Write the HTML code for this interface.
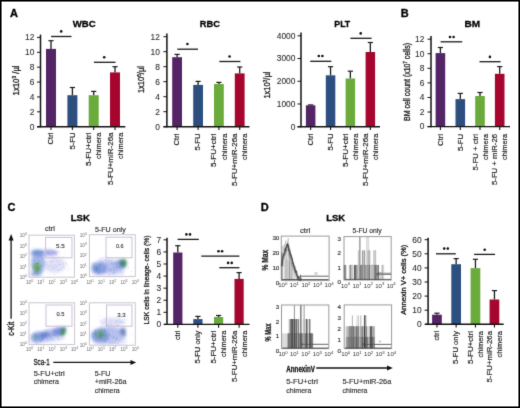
<!DOCTYPE html>
<html><head><meta charset="utf-8"><style>
html,body{margin:0;padding:0;background:#fff;}
body{width:520px;height:408px;overflow:hidden;}
svg{display:block;font-family:"Liberation Sans", sans-serif;will-change:transform;}

</style></head><body>
<svg width="520" height="408" viewBox="0 0 520 408">
<defs><filter id="b1" x="-50%" y="-50%" width="200%" height="200%"><feGaussianBlur stdDeviation="1.6"/></filter><filter id="b2" x="-50%" y="-50%" width="200%" height="200%"><feGaussianBlur stdDeviation="0.9"/></filter></defs>
<rect x="0" y="0" width="520" height="408" fill="#fff"/>
<filter id="gb" x="0" y="0" width="100%" height="100%" color-interpolation-filters="sRGB"><feConvolveMatrix order="3" kernelMatrix="0.01134 0.08382 0.01134 0.08382 0.61935 0.08382 0.01134 0.08382 0.01134" divisor="1" edgeMode="duplicate"/></filter><g filter="url(#gb)">
<text x="10.10" y="16.80" font-size="11" text-anchor="start" font-weight="bold" fill="#000" stroke="#000" stroke-width="0.3">A</text>
<text x="400.80" y="16.90" font-size="11" text-anchor="start" font-weight="bold" fill="#000" stroke="#000" stroke-width="0.3">B</text>
<text x="7.60" y="210.60" font-size="11" text-anchor="start" font-weight="bold" fill="#000" stroke="#000" stroke-width="0.3">C</text>
<text x="260.80" y="211.20" font-size="11" text-anchor="start" font-weight="bold" fill="#000" stroke="#000" stroke-width="0.3">D</text>
<text x="72.70" y="26.90" font-size="9.9" text-anchor="start" font-weight="bold" textLength="23.00" lengthAdjust="spacingAndGlyphs" fill="#000" stroke="#000" stroke-width="0.3">WBC</text>
<text x="199.80" y="26.90" font-size="9.9" text-anchor="start" font-weight="bold" textLength="20.20" lengthAdjust="spacingAndGlyphs" fill="#000" stroke="#000" stroke-width="0.3">RBC</text>
<text x="334.30" y="26.80" font-size="9.9" text-anchor="start" font-weight="bold" textLength="15.90" lengthAdjust="spacingAndGlyphs" fill="#000" stroke="#000" stroke-width="0.3">PLT</text>
<text x="464.40" y="27.10" font-size="9.9" text-anchor="start" font-weight="bold" textLength="15.60" lengthAdjust="spacingAndGlyphs" fill="#000" stroke="#000" stroke-width="0.3">BM</text>
<line x1="51.00" y1="40.70" x2="51.00" y2="48.90" stroke="#1a1a1a" stroke-width="1.3"/>
<line x1="48.40" y1="40.70" x2="53.60" y2="40.70" stroke="#1a1a1a" stroke-width="1.2"/>
<rect x="46.00" y="48.90" width="10.00" height="77.80" fill="#532466"/>
<line x1="72.40" y1="87.50" x2="72.40" y2="95.20" stroke="#1a1a1a" stroke-width="1.3"/>
<line x1="69.80" y1="87.50" x2="75.00" y2="87.50" stroke="#1a1a1a" stroke-width="1.2"/>
<rect x="67.40" y="95.20" width="10.00" height="31.50" fill="#2d4f80"/>
<line x1="93.70" y1="91.40" x2="93.70" y2="95.20" stroke="#1a1a1a" stroke-width="1.3"/>
<line x1="91.10" y1="91.40" x2="96.30" y2="91.40" stroke="#1a1a1a" stroke-width="1.2"/>
<rect x="88.70" y="95.20" width="10.00" height="31.50" fill="#6aab3c"/>
<line x1="115.00" y1="66.70" x2="115.00" y2="72.40" stroke="#1a1a1a" stroke-width="1.3"/>
<line x1="112.40" y1="66.70" x2="117.60" y2="66.70" stroke="#1a1a1a" stroke-width="1.2"/>
<rect x="110.00" y="72.40" width="10.00" height="54.30" fill="#a6062e"/>
<line x1="40.50" y1="34.60" x2="40.50" y2="127.30" stroke="#111" stroke-width="1.5"/>
<line x1="37.00" y1="126.70" x2="125.30" y2="126.70" stroke="#111" stroke-width="1.4"/>
<line x1="37.00" y1="126.70" x2="40.50" y2="126.70" stroke="#111" stroke-width="1.0"/>
<text x="34.40" y="129.55" font-size="8.4" text-anchor="end" fill="#2a2a2a" stroke="#2a2a2a" stroke-width="0.08">0</text>
<line x1="37.00" y1="111.82" x2="40.50" y2="111.82" stroke="#111" stroke-width="1.0"/>
<text x="34.40" y="114.67" font-size="8.4" text-anchor="end" fill="#2a2a2a" stroke="#2a2a2a" stroke-width="0.08">2</text>
<line x1="37.00" y1="96.94" x2="40.50" y2="96.94" stroke="#111" stroke-width="1.0"/>
<text x="34.40" y="99.79" font-size="8.4" text-anchor="end" fill="#2a2a2a" stroke="#2a2a2a" stroke-width="0.08">4</text>
<line x1="37.00" y1="82.06" x2="40.50" y2="82.06" stroke="#111" stroke-width="1.0"/>
<text x="34.40" y="84.91" font-size="8.4" text-anchor="end" fill="#2a2a2a" stroke="#2a2a2a" stroke-width="0.08">6</text>
<line x1="37.00" y1="67.18" x2="40.50" y2="67.18" stroke="#111" stroke-width="1.0"/>
<text x="34.40" y="70.03" font-size="8.4" text-anchor="end" fill="#2a2a2a" stroke="#2a2a2a" stroke-width="0.08">8</text>
<line x1="37.00" y1="52.30" x2="40.50" y2="52.30" stroke="#111" stroke-width="1.0"/>
<text x="34.40" y="55.15" font-size="8.4" text-anchor="end" fill="#2a2a2a" stroke="#2a2a2a" stroke-width="0.08">10</text>
<line x1="37.00" y1="37.42" x2="40.50" y2="37.42" stroke="#111" stroke-width="1.0"/>
<text x="34.40" y="40.27" font-size="8.4" text-anchor="end" fill="#2a2a2a" stroke="#2a2a2a" stroke-width="0.08">12</text>
<line x1="51.00" y1="126.70" x2="51.00" y2="130.00" stroke="#111" stroke-width="1.1"/>
<line x1="72.40" y1="126.70" x2="72.40" y2="130.00" stroke="#111" stroke-width="1.1"/>
<line x1="93.70" y1="126.70" x2="93.70" y2="130.00" stroke="#111" stroke-width="1.1"/>
<line x1="115.00" y1="126.70" x2="115.00" y2="130.00" stroke="#111" stroke-width="1.1"/>
<line x1="51.10" y1="36.50" x2="71.50" y2="36.50" stroke="#1a1a1a" stroke-width="1.3"/>
<circle cx="61.20" cy="31.40" r="1.3" fill="#111"/>
<line x1="93.90" y1="62.30" x2="115.50" y2="62.30" stroke="#1a1a1a" stroke-width="1.3"/>
<circle cx="104.20" cy="57.30" r="1.3" fill="#111"/>
<text transform="translate(19.40,80.40) rotate(-90)" font-size="9" text-anchor="middle" textLength="30.00" lengthAdjust="spacingAndGlyphs" fill="#1a1a1a" stroke="#1a1a1a" stroke-width="0.32">1x10<tspan font-size="5.5" dy="-3.3">3</tspan><tspan dy="3.3"> /µl</tspan></text>
<text transform="translate(53.30,132.50) rotate(-90)" font-size="8.0" text-anchor="end" textLength="12.00" lengthAdjust="spacingAndGlyphs" fill="#222" stroke="#222" stroke-width="0.18">Ctrl</text>
<text transform="translate(74.70,132.50) rotate(-90)" font-size="8.0" text-anchor="end" textLength="17.00" lengthAdjust="spacingAndGlyphs" fill="#222" stroke="#222" stroke-width="0.18">5-FU</text>
<text transform="translate(91.20,132.50) rotate(-90)" font-size="8.0" text-anchor="end" textLength="33.50" lengthAdjust="spacingAndGlyphs" fill="#222" stroke="#222" stroke-width="0.18">5-FU+ctrl</text>
<text transform="translate(101.30,132.50) rotate(-90)" font-size="8.0" text-anchor="end" textLength="26.50" lengthAdjust="spacingAndGlyphs" fill="#222" stroke="#222" stroke-width="0.18">chimera</text>
<text transform="translate(112.50,132.50) rotate(-90)" font-size="8.0" text-anchor="end" textLength="52.50" lengthAdjust="spacingAndGlyphs" fill="#222" stroke="#222" stroke-width="0.18">5-FU+miR-26a</text>
<text transform="translate(122.60,132.50) rotate(-90)" font-size="8.0" text-anchor="end" textLength="26.50" lengthAdjust="spacingAndGlyphs" fill="#222" stroke="#222" stroke-width="0.18">chimera</text>
<line x1="177.10" y1="54.40" x2="177.10" y2="57.20" stroke="#1a1a1a" stroke-width="1.3"/>
<line x1="174.50" y1="54.40" x2="179.70" y2="54.40" stroke="#1a1a1a" stroke-width="1.2"/>
<rect x="172.20" y="57.20" width="9.80" height="69.50" fill="#532466"/>
<line x1="198.10" y1="81.40" x2="198.10" y2="84.90" stroke="#1a1a1a" stroke-width="1.3"/>
<line x1="195.50" y1="81.40" x2="200.70" y2="81.40" stroke="#1a1a1a" stroke-width="1.2"/>
<rect x="193.20" y="84.90" width="9.80" height="41.80" fill="#2d4f80"/>
<line x1="218.90" y1="82.40" x2="218.90" y2="84.00" stroke="#1a1a1a" stroke-width="1.3"/>
<line x1="216.30" y1="82.40" x2="221.50" y2="82.40" stroke="#1a1a1a" stroke-width="1.2"/>
<rect x="214.00" y="84.00" width="9.80" height="42.70" fill="#6aab3c"/>
<line x1="239.70" y1="67.00" x2="239.70" y2="73.40" stroke="#1a1a1a" stroke-width="1.3"/>
<line x1="237.10" y1="67.00" x2="242.30" y2="67.00" stroke="#1a1a1a" stroke-width="1.2"/>
<rect x="234.80" y="73.40" width="9.80" height="53.30" fill="#a6062e"/>
<line x1="166.90" y1="33.40" x2="166.90" y2="127.30" stroke="#111" stroke-width="1.5"/>
<line x1="163.50" y1="126.70" x2="249.50" y2="126.70" stroke="#111" stroke-width="1.4"/>
<line x1="163.40" y1="126.70" x2="166.90" y2="126.70" stroke="#111" stroke-width="1.0"/>
<text x="159.90" y="129.55" font-size="8.4" text-anchor="end" fill="#2a2a2a" stroke="#2a2a2a" stroke-width="0.08">0</text>
<line x1="163.40" y1="111.70" x2="166.90" y2="111.70" stroke="#111" stroke-width="1.0"/>
<text x="159.90" y="114.55" font-size="8.4" text-anchor="end" fill="#2a2a2a" stroke="#2a2a2a" stroke-width="0.08">2</text>
<line x1="163.40" y1="96.70" x2="166.90" y2="96.70" stroke="#111" stroke-width="1.0"/>
<text x="159.90" y="99.55" font-size="8.4" text-anchor="end" fill="#2a2a2a" stroke="#2a2a2a" stroke-width="0.08">4</text>
<line x1="163.40" y1="81.70" x2="166.90" y2="81.70" stroke="#111" stroke-width="1.0"/>
<text x="159.90" y="84.55" font-size="8.4" text-anchor="end" fill="#2a2a2a" stroke="#2a2a2a" stroke-width="0.08">6</text>
<line x1="163.40" y1="66.70" x2="166.90" y2="66.70" stroke="#111" stroke-width="1.0"/>
<text x="159.90" y="69.55" font-size="8.4" text-anchor="end" fill="#2a2a2a" stroke="#2a2a2a" stroke-width="0.08">8</text>
<line x1="163.40" y1="51.70" x2="166.90" y2="51.70" stroke="#111" stroke-width="1.0"/>
<text x="159.90" y="54.55" font-size="8.4" text-anchor="end" fill="#2a2a2a" stroke="#2a2a2a" stroke-width="0.08">10</text>
<line x1="163.40" y1="36.70" x2="166.90" y2="36.70" stroke="#111" stroke-width="1.0"/>
<text x="159.90" y="39.55" font-size="8.4" text-anchor="end" fill="#2a2a2a" stroke="#2a2a2a" stroke-width="0.08">12</text>
<line x1="177.10" y1="126.70" x2="177.10" y2="130.00" stroke="#111" stroke-width="1.1"/>
<line x1="198.10" y1="126.70" x2="198.10" y2="130.00" stroke="#111" stroke-width="1.1"/>
<line x1="218.90" y1="126.70" x2="218.90" y2="130.00" stroke="#111" stroke-width="1.1"/>
<line x1="239.70" y1="126.70" x2="239.70" y2="130.00" stroke="#111" stroke-width="1.1"/>
<line x1="177.30" y1="49.20" x2="198.00" y2="49.20" stroke="#1a1a1a" stroke-width="1.3"/>
<circle cx="187.40" cy="44.00" r="1.3" fill="#111"/>
<line x1="219.30" y1="61.50" x2="240.40" y2="61.50" stroke="#1a1a1a" stroke-width="1.3"/>
<circle cx="229.60" cy="56.50" r="1.3" fill="#111"/>
<text transform="translate(144.40,79.60) rotate(-90)" font-size="9" text-anchor="middle" textLength="27.00" lengthAdjust="spacingAndGlyphs" fill="#1a1a1a" stroke="#1a1a1a" stroke-width="0.32">1x10<tspan font-size="5.5" dy="-3.3">6</tspan><tspan dy="3.3">/µl</tspan></text>
<text transform="translate(179.40,133.50) rotate(-90)" font-size="8.0" text-anchor="end" textLength="12.00" lengthAdjust="spacingAndGlyphs" fill="#222" stroke="#222" stroke-width="0.18">Ctrl</text>
<text transform="translate(200.40,133.50) rotate(-90)" font-size="8.0" text-anchor="end" textLength="17.00" lengthAdjust="spacingAndGlyphs" fill="#222" stroke="#222" stroke-width="0.18">5-FU</text>
<text transform="translate(216.40,133.50) rotate(-90)" font-size="8.0" text-anchor="end" textLength="33.50" lengthAdjust="spacingAndGlyphs" fill="#222" stroke="#222" stroke-width="0.18">5-FU+ctrl</text>
<text transform="translate(226.50,133.50) rotate(-90)" font-size="8.0" text-anchor="end" textLength="26.50" lengthAdjust="spacingAndGlyphs" fill="#222" stroke="#222" stroke-width="0.18">chimera</text>
<text transform="translate(237.20,133.50) rotate(-90)" font-size="8.0" text-anchor="end" textLength="52.50" lengthAdjust="spacingAndGlyphs" fill="#222" stroke="#222" stroke-width="0.18">5-FU+miR-26a</text>
<text transform="translate(247.30,133.50) rotate(-90)" font-size="8.0" text-anchor="end" textLength="26.50" lengthAdjust="spacingAndGlyphs" fill="#222" stroke="#222" stroke-width="0.18">chimera</text>
<line x1="310.65" y1="104.90" x2="310.65" y2="105.30" stroke="#1a1a1a" stroke-width="1.3"/>
<line x1="308.05" y1="104.90" x2="313.25" y2="104.90" stroke="#1a1a1a" stroke-width="1.2"/>
<rect x="305.90" y="105.30" width="9.50" height="21.40" fill="#532466"/>
<line x1="330.55" y1="66.70" x2="330.55" y2="75.30" stroke="#1a1a1a" stroke-width="1.3"/>
<line x1="327.95" y1="66.70" x2="333.15" y2="66.70" stroke="#1a1a1a" stroke-width="1.2"/>
<rect x="325.80" y="75.30" width="9.50" height="51.40" fill="#2d4f80"/>
<line x1="350.35" y1="71.20" x2="350.35" y2="78.50" stroke="#1a1a1a" stroke-width="1.3"/>
<line x1="347.75" y1="71.20" x2="352.95" y2="71.20" stroke="#1a1a1a" stroke-width="1.2"/>
<rect x="345.60" y="78.50" width="9.50" height="48.20" fill="#6aab3c"/>
<line x1="370.35" y1="42.50" x2="370.35" y2="52.00" stroke="#1a1a1a" stroke-width="1.3"/>
<line x1="367.75" y1="42.50" x2="372.95" y2="42.50" stroke="#1a1a1a" stroke-width="1.2"/>
<rect x="365.60" y="52.00" width="9.50" height="74.70" fill="#a6062e"/>
<line x1="301.00" y1="32.40" x2="301.00" y2="127.30" stroke="#111" stroke-width="1.5"/>
<line x1="297.50" y1="126.70" x2="380.00" y2="126.70" stroke="#111" stroke-width="1.4"/>
<line x1="297.50" y1="126.70" x2="301.00" y2="126.70" stroke="#111" stroke-width="1.0"/>
<text x="295.40" y="129.55" font-size="8.4" text-anchor="end" fill="#2a2a2a" stroke="#2a2a2a" stroke-width="0.08">0</text>
<line x1="297.50" y1="103.98" x2="301.00" y2="103.98" stroke="#111" stroke-width="1.0"/>
<text x="295.40" y="106.83" font-size="8.4" text-anchor="end" fill="#2a2a2a" stroke="#2a2a2a" stroke-width="0.08">1000</text>
<line x1="297.50" y1="81.26" x2="301.00" y2="81.26" stroke="#111" stroke-width="1.0"/>
<text x="295.40" y="84.11" font-size="8.4" text-anchor="end" fill="#2a2a2a" stroke="#2a2a2a" stroke-width="0.08">2000</text>
<line x1="297.50" y1="58.54" x2="301.00" y2="58.54" stroke="#111" stroke-width="1.0"/>
<text x="295.40" y="61.39" font-size="8.4" text-anchor="end" fill="#2a2a2a" stroke="#2a2a2a" stroke-width="0.08">3000</text>
<line x1="297.50" y1="35.82" x2="301.00" y2="35.82" stroke="#111" stroke-width="1.0"/>
<text x="295.40" y="38.67" font-size="8.4" text-anchor="end" fill="#2a2a2a" stroke="#2a2a2a" stroke-width="0.08">4000</text>
<line x1="310.65" y1="126.70" x2="310.65" y2="130.00" stroke="#111" stroke-width="1.1"/>
<line x1="330.55" y1="126.70" x2="330.55" y2="130.00" stroke="#111" stroke-width="1.1"/>
<line x1="350.35" y1="126.70" x2="350.35" y2="130.00" stroke="#111" stroke-width="1.1"/>
<line x1="370.35" y1="126.70" x2="370.35" y2="130.00" stroke="#111" stroke-width="1.1"/>
<line x1="310.20" y1="61.30" x2="331.30" y2="61.30" stroke="#1a1a1a" stroke-width="1.3"/>
<circle cx="318.80" cy="56.00" r="1.3" fill="#111"/>
<circle cx="322.40" cy="56.00" r="1.3" fill="#111"/>
<line x1="350.40" y1="38.30" x2="371.60" y2="38.30" stroke="#1a1a1a" stroke-width="1.3"/>
<circle cx="360.70" cy="33.40" r="1.3" fill="#111"/>
<text transform="translate(270.40,85.10) rotate(-90)" font-size="9" text-anchor="middle" textLength="27.00" lengthAdjust="spacingAndGlyphs" fill="#1a1a1a" stroke="#1a1a1a" stroke-width="0.32">1x10<tspan font-size="5.5" dy="-3.3">3</tspan><tspan dy="3.3">/µl</tspan></text>
<text transform="translate(312.95,133.50) rotate(-90)" font-size="8.0" text-anchor="end" textLength="12.00" lengthAdjust="spacingAndGlyphs" fill="#222" stroke="#222" stroke-width="0.18">Ctrl</text>
<text transform="translate(332.85,133.50) rotate(-90)" font-size="8.0" text-anchor="end" textLength="17.00" lengthAdjust="spacingAndGlyphs" fill="#222" stroke="#222" stroke-width="0.18">5-FU</text>
<text transform="translate(347.85,133.50) rotate(-90)" font-size="8.0" text-anchor="end" textLength="33.50" lengthAdjust="spacingAndGlyphs" fill="#222" stroke="#222" stroke-width="0.18">5-FU+ctrl</text>
<text transform="translate(357.95,133.50) rotate(-90)" font-size="8.0" text-anchor="end" textLength="26.50" lengthAdjust="spacingAndGlyphs" fill="#222" stroke="#222" stroke-width="0.18">chimera</text>
<text transform="translate(367.85,133.50) rotate(-90)" font-size="8.0" text-anchor="end" textLength="52.50" lengthAdjust="spacingAndGlyphs" fill="#222" stroke="#222" stroke-width="0.18">5-FU+miR-26a</text>
<text transform="translate(377.95,133.50) rotate(-90)" font-size="8.0" text-anchor="end" textLength="26.50" lengthAdjust="spacingAndGlyphs" fill="#222" stroke="#222" stroke-width="0.18">chimera</text>
<line x1="440.40" y1="47.50" x2="440.40" y2="53.10" stroke="#1a1a1a" stroke-width="1.3"/>
<line x1="437.80" y1="47.50" x2="443.00" y2="47.50" stroke="#1a1a1a" stroke-width="1.2"/>
<rect x="435.60" y="53.10" width="9.60" height="73.50" fill="#532466"/>
<line x1="460.30" y1="93.40" x2="460.30" y2="99.10" stroke="#1a1a1a" stroke-width="1.3"/>
<line x1="457.70" y1="93.40" x2="462.90" y2="93.40" stroke="#1a1a1a" stroke-width="1.2"/>
<rect x="455.50" y="99.10" width="9.60" height="27.50" fill="#2d4f80"/>
<line x1="480.00" y1="92.50" x2="480.00" y2="96.00" stroke="#1a1a1a" stroke-width="1.3"/>
<line x1="477.40" y1="92.50" x2="482.60" y2="92.50" stroke="#1a1a1a" stroke-width="1.2"/>
<rect x="475.20" y="96.00" width="9.60" height="30.60" fill="#6aab3c"/>
<line x1="499.70" y1="66.60" x2="499.70" y2="73.80" stroke="#1a1a1a" stroke-width="1.3"/>
<line x1="497.10" y1="66.60" x2="502.30" y2="66.60" stroke="#1a1a1a" stroke-width="1.2"/>
<rect x="494.90" y="73.80" width="9.60" height="52.80" fill="#a6062e"/>
<line x1="431.00" y1="36.00" x2="431.00" y2="127.20" stroke="#111" stroke-width="1.5"/>
<line x1="427.50" y1="126.60" x2="509.80" y2="126.60" stroke="#111" stroke-width="1.4"/>
<line x1="427.50" y1="126.60" x2="431.00" y2="126.60" stroke="#111" stroke-width="1.0"/>
<text x="424.40" y="129.45" font-size="8.4" text-anchor="end" fill="#2a2a2a" stroke="#2a2a2a" stroke-width="0.08">0</text>
<line x1="427.50" y1="112.03" x2="431.00" y2="112.03" stroke="#111" stroke-width="1.0"/>
<text x="424.40" y="114.88" font-size="8.4" text-anchor="end" fill="#2a2a2a" stroke="#2a2a2a" stroke-width="0.08">2</text>
<line x1="427.50" y1="97.46" x2="431.00" y2="97.46" stroke="#111" stroke-width="1.0"/>
<text x="424.40" y="100.31" font-size="8.4" text-anchor="end" fill="#2a2a2a" stroke="#2a2a2a" stroke-width="0.08">4</text>
<line x1="427.50" y1="82.89" x2="431.00" y2="82.89" stroke="#111" stroke-width="1.0"/>
<text x="424.40" y="85.74" font-size="8.4" text-anchor="end" fill="#2a2a2a" stroke="#2a2a2a" stroke-width="0.08">6</text>
<line x1="427.50" y1="68.32" x2="431.00" y2="68.32" stroke="#111" stroke-width="1.0"/>
<text x="424.40" y="71.17" font-size="8.4" text-anchor="end" fill="#2a2a2a" stroke="#2a2a2a" stroke-width="0.08">8</text>
<line x1="427.50" y1="53.75" x2="431.00" y2="53.75" stroke="#111" stroke-width="1.0"/>
<text x="424.40" y="56.60" font-size="8.4" text-anchor="end" fill="#2a2a2a" stroke="#2a2a2a" stroke-width="0.08">10</text>
<line x1="427.50" y1="39.18" x2="431.00" y2="39.18" stroke="#111" stroke-width="1.0"/>
<text x="424.40" y="42.03" font-size="8.4" text-anchor="end" fill="#2a2a2a" stroke="#2a2a2a" stroke-width="0.08">12</text>
<line x1="440.40" y1="126.60" x2="440.40" y2="129.90" stroke="#111" stroke-width="1.1"/>
<line x1="460.30" y1="126.60" x2="460.30" y2="129.90" stroke="#111" stroke-width="1.1"/>
<line x1="480.00" y1="126.60" x2="480.00" y2="129.90" stroke="#111" stroke-width="1.1"/>
<line x1="499.70" y1="126.60" x2="499.70" y2="129.90" stroke="#111" stroke-width="1.1"/>
<line x1="440.60" y1="41.80" x2="462.20" y2="41.80" stroke="#1a1a1a" stroke-width="1.3"/>
<circle cx="450.00" cy="37.00" r="1.3" fill="#111"/>
<circle cx="453.60" cy="37.00" r="1.3" fill="#111"/>
<line x1="479.50" y1="61.70" x2="500.60" y2="61.70" stroke="#1a1a1a" stroke-width="1.3"/>
<circle cx="489.90" cy="56.90" r="1.3" fill="#111"/>
<text transform="translate(410.20,82.00) rotate(-90)" font-size="8.6" text-anchor="middle" textLength="78.00" lengthAdjust="spacingAndGlyphs" fill="#1a1a1a" stroke="#1a1a1a" stroke-width="0.32">BM cell count (x10<tspan font-size="5" dy="-3">7</tspan><tspan dy="3"> cells)</tspan></text>
<text transform="translate(442.70,134.00) rotate(-90)" font-size="8.0" text-anchor="end" textLength="12.00" lengthAdjust="spacingAndGlyphs" fill="#222" stroke="#222" stroke-width="0.18">Ctrl</text>
<text transform="translate(462.60,134.00) rotate(-90)" font-size="8.0" text-anchor="end" textLength="17.00" lengthAdjust="spacingAndGlyphs" fill="#222" stroke="#222" stroke-width="0.18">5-FU</text>
<text transform="translate(477.50,134.00) rotate(-90)" font-size="8.0" text-anchor="end" textLength="36.50" lengthAdjust="spacingAndGlyphs" fill="#222" stroke="#222" stroke-width="0.18">5-FU + ctrl</text>
<text transform="translate(487.60,134.00) rotate(-90)" font-size="8.0" text-anchor="end" textLength="26.00" lengthAdjust="spacingAndGlyphs" fill="#222" stroke="#222" stroke-width="0.18">chimera</text>
<text transform="translate(497.20,134.00) rotate(-90)" font-size="8.0" text-anchor="end" textLength="51.00" lengthAdjust="spacingAndGlyphs" fill="#222" stroke="#222" stroke-width="0.18">5-FU + miR-26</text>
<text transform="translate(507.30,134.00) rotate(-90)" font-size="8.0" text-anchor="end" textLength="26.00" lengthAdjust="spacingAndGlyphs" fill="#222" stroke="#222" stroke-width="0.18">chimera</text>
<line x1="177.80" y1="245.70" x2="177.80" y2="252.50" stroke="#1a1a1a" stroke-width="1.3"/>
<line x1="175.20" y1="245.70" x2="180.40" y2="245.70" stroke="#1a1a1a" stroke-width="1.2"/>
<rect x="173.20" y="252.50" width="9.20" height="71.90" fill="#532466"/>
<line x1="197.90" y1="316.40" x2="197.90" y2="319.10" stroke="#1a1a1a" stroke-width="1.3"/>
<line x1="195.30" y1="316.40" x2="200.50" y2="316.40" stroke="#1a1a1a" stroke-width="1.2"/>
<rect x="193.30" y="319.10" width="9.20" height="5.30" fill="#2d4f80"/>
<line x1="218.60" y1="315.50" x2="218.60" y2="317.00" stroke="#1a1a1a" stroke-width="1.3"/>
<line x1="216.00" y1="315.50" x2="221.20" y2="315.50" stroke="#1a1a1a" stroke-width="1.2"/>
<rect x="214.00" y="317.00" width="9.20" height="7.40" fill="#6aab3c"/>
<line x1="239.10" y1="272.60" x2="239.10" y2="278.90" stroke="#1a1a1a" stroke-width="1.3"/>
<line x1="236.50" y1="272.60" x2="241.70" y2="272.60" stroke="#1a1a1a" stroke-width="1.2"/>
<rect x="234.50" y="278.90" width="9.20" height="45.50" fill="#a6062e"/>
<line x1="167.00" y1="237.70" x2="167.00" y2="325.00" stroke="#111" stroke-width="1.5"/>
<line x1="164.00" y1="324.40" x2="249.50" y2="324.40" stroke="#111" stroke-width="1.4"/>
<line x1="163.50" y1="324.40" x2="167.00" y2="324.40" stroke="#111" stroke-width="1.0"/>
<text x="161.20" y="327.25" font-size="8.4" text-anchor="end" fill="#2a2a2a" stroke="#2a2a2a" stroke-width="0.08">0</text>
<line x1="163.50" y1="312.32" x2="167.00" y2="312.32" stroke="#111" stroke-width="1.0"/>
<text x="161.20" y="315.17" font-size="8.4" text-anchor="end" fill="#2a2a2a" stroke="#2a2a2a" stroke-width="0.08">1</text>
<line x1="163.50" y1="300.24" x2="167.00" y2="300.24" stroke="#111" stroke-width="1.0"/>
<text x="161.20" y="303.09" font-size="8.4" text-anchor="end" fill="#2a2a2a" stroke="#2a2a2a" stroke-width="0.08">2</text>
<line x1="163.50" y1="288.16" x2="167.00" y2="288.16" stroke="#111" stroke-width="1.0"/>
<text x="161.20" y="291.01" font-size="8.4" text-anchor="end" fill="#2a2a2a" stroke="#2a2a2a" stroke-width="0.08">3</text>
<line x1="163.50" y1="276.08" x2="167.00" y2="276.08" stroke="#111" stroke-width="1.0"/>
<text x="161.20" y="278.93" font-size="8.4" text-anchor="end" fill="#2a2a2a" stroke="#2a2a2a" stroke-width="0.08">4</text>
<line x1="163.50" y1="264.00" x2="167.00" y2="264.00" stroke="#111" stroke-width="1.0"/>
<text x="161.20" y="266.85" font-size="8.4" text-anchor="end" fill="#2a2a2a" stroke="#2a2a2a" stroke-width="0.08">5</text>
<line x1="163.50" y1="251.92" x2="167.00" y2="251.92" stroke="#111" stroke-width="1.0"/>
<text x="161.20" y="254.77" font-size="8.4" text-anchor="end" fill="#2a2a2a" stroke="#2a2a2a" stroke-width="0.08">6</text>
<line x1="163.50" y1="239.84" x2="167.00" y2="239.84" stroke="#111" stroke-width="1.0"/>
<text x="161.20" y="242.69" font-size="8.4" text-anchor="end" fill="#2a2a2a" stroke="#2a2a2a" stroke-width="0.08">7</text>
<line x1="177.80" y1="324.40" x2="177.80" y2="327.70" stroke="#111" stroke-width="1.1"/>
<line x1="197.90" y1="324.40" x2="197.90" y2="327.70" stroke="#111" stroke-width="1.1"/>
<line x1="218.60" y1="324.40" x2="218.60" y2="327.70" stroke="#111" stroke-width="1.1"/>
<line x1="239.10" y1="324.40" x2="239.10" y2="327.70" stroke="#111" stroke-width="1.1"/>
<line x1="177.60" y1="239.40" x2="198.80" y2="239.40" stroke="#1a1a1a" stroke-width="1.3"/>
<circle cx="186.40" cy="234.40" r="1.3" fill="#111"/>
<circle cx="190.00" cy="234.40" r="1.3" fill="#111"/>
<line x1="201.30" y1="256.10" x2="239.40" y2="256.10" stroke="#1a1a1a" stroke-width="1.3"/>
<circle cx="218.50" cy="251.30" r="1.3" fill="#111"/>
<circle cx="222.10" cy="251.30" r="1.3" fill="#111"/>
<line x1="219.30" y1="267.70" x2="239.40" y2="267.70" stroke="#1a1a1a" stroke-width="1.3"/>
<circle cx="228.10" cy="262.90" r="1.3" fill="#111"/>
<circle cx="231.70" cy="262.90" r="1.3" fill="#111"/>
<text transform="translate(148.50,280.00) rotate(-90)" font-size="7.9" text-anchor="middle" textLength="89.00" lengthAdjust="spacingAndGlyphs" fill="#1a1a1a" stroke="#1a1a1a" stroke-width="0.32">LSK cells in lineage- cells (%)</text>
<text transform="translate(180.10,330.60) rotate(-90)" font-size="8.0" text-anchor="end" textLength="9.50" lengthAdjust="spacingAndGlyphs" fill="#222" stroke="#222" stroke-width="0.18">ctrl</text>
<text transform="translate(200.20,330.60) rotate(-90)" font-size="8.0" text-anchor="end" textLength="33.00" lengthAdjust="spacingAndGlyphs" fill="#222" stroke="#222" stroke-width="0.18">5-FU only</text>
<text transform="translate(216.10,330.60) rotate(-90)" font-size="8.0" text-anchor="end" textLength="33.00" lengthAdjust="spacingAndGlyphs" fill="#222" stroke="#222" stroke-width="0.18">5-FU+ctrl</text>
<text transform="translate(226.20,330.60) rotate(-90)" font-size="8.0" text-anchor="end" textLength="26.50" lengthAdjust="spacingAndGlyphs" fill="#222" stroke="#222" stroke-width="0.18">chimera</text>
<text transform="translate(236.60,330.60) rotate(-90)" font-size="8.0" text-anchor="end" textLength="51.50" lengthAdjust="spacingAndGlyphs" fill="#222" stroke="#222" stroke-width="0.18">5-FU+miR-26a</text>
<text transform="translate(246.70,330.60) rotate(-90)" font-size="8.0" text-anchor="end" textLength="26.50" lengthAdjust="spacingAndGlyphs" fill="#222" stroke="#222" stroke-width="0.18">chimera</text>
<line x1="436.95" y1="313.20" x2="436.95" y2="314.70" stroke="#1a1a1a" stroke-width="1.3"/>
<line x1="434.35" y1="313.20" x2="439.55" y2="313.20" stroke="#1a1a1a" stroke-width="1.2"/>
<rect x="432.10" y="314.70" width="9.70" height="9.60" fill="#532466"/>
<line x1="456.15" y1="258.60" x2="456.15" y2="264.20" stroke="#1a1a1a" stroke-width="1.3"/>
<line x1="453.55" y1="258.60" x2="458.75" y2="258.60" stroke="#1a1a1a" stroke-width="1.2"/>
<rect x="451.30" y="264.20" width="9.70" height="60.10" fill="#2d4f80"/>
<line x1="475.45" y1="259.30" x2="475.45" y2="268.10" stroke="#1a1a1a" stroke-width="1.3"/>
<line x1="472.85" y1="259.30" x2="478.05" y2="259.30" stroke="#1a1a1a" stroke-width="1.2"/>
<rect x="470.60" y="268.10" width="9.70" height="56.20" fill="#6aab3c"/>
<line x1="494.45" y1="290.60" x2="494.45" y2="299.50" stroke="#1a1a1a" stroke-width="1.3"/>
<line x1="491.85" y1="290.60" x2="497.05" y2="290.60" stroke="#1a1a1a" stroke-width="1.2"/>
<rect x="489.60" y="299.50" width="9.70" height="24.80" fill="#a6062e"/>
<line x1="428.10" y1="237.80" x2="428.10" y2="324.90" stroke="#111" stroke-width="1.5"/>
<line x1="425.00" y1="324.30" x2="503.70" y2="324.30" stroke="#111" stroke-width="1.4"/>
<line x1="424.60" y1="324.30" x2="428.10" y2="324.30" stroke="#111" stroke-width="1.0"/>
<text x="421.60" y="327.15" font-size="8.4" text-anchor="end" fill="#2a2a2a" stroke="#2a2a2a" stroke-width="0.08">0</text>
<line x1="424.60" y1="310.20" x2="428.10" y2="310.20" stroke="#111" stroke-width="1.0"/>
<text x="421.60" y="313.05" font-size="8.4" text-anchor="end" fill="#2a2a2a" stroke="#2a2a2a" stroke-width="0.08">10</text>
<line x1="424.60" y1="296.10" x2="428.10" y2="296.10" stroke="#111" stroke-width="1.0"/>
<text x="421.60" y="298.95" font-size="8.4" text-anchor="end" fill="#2a2a2a" stroke="#2a2a2a" stroke-width="0.08">20</text>
<line x1="424.60" y1="282.00" x2="428.10" y2="282.00" stroke="#111" stroke-width="1.0"/>
<text x="421.60" y="284.85" font-size="8.4" text-anchor="end" fill="#2a2a2a" stroke="#2a2a2a" stroke-width="0.08">30</text>
<line x1="424.60" y1="267.90" x2="428.10" y2="267.90" stroke="#111" stroke-width="1.0"/>
<text x="421.60" y="270.75" font-size="8.4" text-anchor="end" fill="#2a2a2a" stroke="#2a2a2a" stroke-width="0.08">40</text>
<line x1="424.60" y1="253.80" x2="428.10" y2="253.80" stroke="#111" stroke-width="1.0"/>
<text x="421.60" y="256.65" font-size="8.4" text-anchor="end" fill="#2a2a2a" stroke="#2a2a2a" stroke-width="0.08">50</text>
<line x1="424.60" y1="239.70" x2="428.10" y2="239.70" stroke="#111" stroke-width="1.0"/>
<text x="421.60" y="242.55" font-size="8.4" text-anchor="end" fill="#2a2a2a" stroke="#2a2a2a" stroke-width="0.08">60</text>
<line x1="436.95" y1="324.30" x2="436.95" y2="327.60" stroke="#111" stroke-width="1.1"/>
<line x1="456.15" y1="324.30" x2="456.15" y2="327.60" stroke="#111" stroke-width="1.1"/>
<line x1="475.45" y1="324.30" x2="475.45" y2="327.60" stroke="#111" stroke-width="1.1"/>
<line x1="494.45" y1="324.30" x2="494.45" y2="327.60" stroke="#111" stroke-width="1.1"/>
<line x1="436.00" y1="253.80" x2="455.80" y2="253.80" stroke="#1a1a1a" stroke-width="1.3"/>
<circle cx="444.20" cy="248.60" r="1.3" fill="#111"/>
<circle cx="447.80" cy="248.60" r="1.3" fill="#111"/>
<line x1="474.10" y1="254.40" x2="495.10" y2="254.40" stroke="#1a1a1a" stroke-width="1.3"/>
<circle cx="484.70" cy="249.70" r="1.3" fill="#111"/>
<text transform="translate(406.20,279.70) rotate(-90)" font-size="7.4" text-anchor="middle" textLength="70.00" lengthAdjust="spacingAndGlyphs" fill="#1a1a1a" stroke="#1a1a1a" stroke-width="0.32">Annexin V+ cells (%)</text>
<text transform="translate(439.25,331.00) rotate(-90)" font-size="8.0" text-anchor="end" textLength="9.50" lengthAdjust="spacingAndGlyphs" fill="#222" stroke="#222" stroke-width="0.18">ctrl</text>
<text transform="translate(458.45,331.00) rotate(-90)" font-size="8.0" text-anchor="end" textLength="33.00" lengthAdjust="spacingAndGlyphs" fill="#222" stroke="#222" stroke-width="0.18">5-FU only</text>
<text transform="translate(472.95,331.00) rotate(-90)" font-size="8.0" text-anchor="end" textLength="33.00" lengthAdjust="spacingAndGlyphs" fill="#222" stroke="#222" stroke-width="0.18">5-FU+ctrl</text>
<text transform="translate(483.05,331.00) rotate(-90)" font-size="8.0" text-anchor="end" textLength="26.50" lengthAdjust="spacingAndGlyphs" fill="#222" stroke="#222" stroke-width="0.18">chimera</text>
<text transform="translate(491.95,331.00) rotate(-90)" font-size="8.0" text-anchor="end" textLength="51.50" lengthAdjust="spacingAndGlyphs" fill="#222" stroke="#222" stroke-width="0.18">5-FU+miR-26a</text>
<text transform="translate(502.05,331.00) rotate(-90)" font-size="8.0" text-anchor="end" textLength="26.50" lengthAdjust="spacingAndGlyphs" fill="#222" stroke="#222" stroke-width="0.18">chimera</text>
<text x="70.70" y="221.00" font-size="9.7" text-anchor="start" font-weight="bold" textLength="19.10" lengthAdjust="spacingAndGlyphs" fill="#000" stroke="#000" stroke-width="0.3">LSK</text>
<text x="45.00" y="231.30" font-size="7.4" text-anchor="start" textLength="10.00" lengthAdjust="spacingAndGlyphs" fill="#333" stroke="#333" stroke-width="0.18">ctrl</text>
<text x="95.00" y="231.60" font-size="7.4" text-anchor="start" textLength="30.70" lengthAdjust="spacingAndGlyphs" fill="#333" stroke="#333" stroke-width="0.18">5-FU only</text>
<g filter="url(#b1)">
<ellipse cx="55.00" cy="265.00" rx="11.00" ry="8.00" fill="#c4c6f0" fill-opacity="0.5" transform="rotate(0 55.00 265.00)"/>
<ellipse cx="44.00" cy="253.00" rx="14.00" ry="3.60" fill="#8a9ce4" fill-opacity="0.55" transform="rotate(0 44.00 253.00)"/>
<ellipse cx="37.00" cy="252.50" rx="6.00" ry="3.20" fill="#4f8fb8" fill-opacity="0.55" transform="rotate(0 37.00 252.50)"/>
<ellipse cx="51.00" cy="252.50" rx="7.00" ry="3.00" fill="#a89ce2" fill-opacity="0.6" transform="rotate(0 51.00 252.50)"/>
<ellipse cx="38.00" cy="263.00" rx="7.00" ry="13.00" fill="#6f8ad8" fill-opacity="0.6" transform="rotate(0 38.00 263.00)"/>
<ellipse cx="37.00" cy="267.50" rx="3.90" ry="5.30" fill="#66ae52" fill-opacity="0.95" transform="rotate(0 37.00 267.50)"/>
<ellipse cx="35.00" cy="274.00" rx="5.00" ry="2.50" fill="#6f8ad8" fill-opacity="0.5" transform="rotate(0 35.00 274.00)"/>
</g>
<circle cx="62.2" cy="264.6" r="0.45" fill="#4a5cc0" fill-opacity="0.35"/>
<circle cx="49.6" cy="265.8" r="0.45" fill="#8a90e0" fill-opacity="0.35"/>
<circle cx="51.6" cy="269.7" r="0.45" fill="#4a68c8" fill-opacity="0.35"/>
<circle cx="53.0" cy="267.8" r="0.45" fill="#4a5cc0" fill-opacity="0.35"/>
<circle cx="54.0" cy="261.3" r="0.45" fill="#4a5cc0" fill-opacity="0.35"/>
<circle cx="57.8" cy="264.9" r="0.45" fill="#4a68c8" fill-opacity="0.35"/>
<circle cx="55.7" cy="264.9" r="0.45" fill="#5a78d8" fill-opacity="0.35"/>
<circle cx="59.4" cy="264.3" r="0.45" fill="#4a5cc0" fill-opacity="0.35"/>
<circle cx="63.8" cy="263.0" r="0.45" fill="#8a90e0" fill-opacity="0.35"/>
<circle cx="51.9" cy="264.6" r="0.45" fill="#5a78d8" fill-opacity="0.35"/>
<circle cx="67.9" cy="264.1" r="0.45" fill="#6a80d8" fill-opacity="0.35"/>
<circle cx="46.1" cy="264.5" r="0.45" fill="#8a90e0" fill-opacity="0.35"/>
<circle cx="47.8" cy="269.6" r="0.45" fill="#4a68c8" fill-opacity="0.35"/>
<circle cx="60.1" cy="264.6" r="0.45" fill="#6a80d8" fill-opacity="0.35"/>
<circle cx="54.7" cy="265.8" r="0.45" fill="#4a5cc0" fill-opacity="0.35"/>
<circle cx="46.0" cy="264.8" r="0.45" fill="#5a78d8" fill-opacity="0.35"/>
<circle cx="61.0" cy="269.8" r="0.45" fill="#8a90e0" fill-opacity="0.35"/>
<circle cx="56.3" cy="260.8" r="0.45" fill="#8a90e0" fill-opacity="0.35"/>
<circle cx="61.8" cy="268.6" r="0.45" fill="#4a68c8" fill-opacity="0.35"/>
<circle cx="48.3" cy="268.7" r="0.45" fill="#6a80d8" fill-opacity="0.35"/>
<circle cx="58.3" cy="269.2" r="0.45" fill="#4a68c8" fill-opacity="0.35"/>
<circle cx="52.3" cy="266.7" r="0.45" fill="#4a5cc0" fill-opacity="0.35"/>
<circle cx="54.8" cy="269.3" r="0.45" fill="#8a90e0" fill-opacity="0.35"/>
<circle cx="51.4" cy="268.1" r="0.45" fill="#4a68c8" fill-opacity="0.35"/>
<circle cx="56.1" cy="267.8" r="0.45" fill="#4a68c8" fill-opacity="0.35"/>
<circle cx="56.3" cy="255.1" r="0.45" fill="#4a5cc0" fill-opacity="0.35"/>
<circle cx="51.9" cy="262.9" r="0.45" fill="#5a78d8" fill-opacity="0.35"/>
<circle cx="43.9" cy="259.9" r="0.45" fill="#4a5cc0" fill-opacity="0.35"/>
<circle cx="51.7" cy="261.8" r="0.45" fill="#5a78d8" fill-opacity="0.35"/>
<circle cx="58.2" cy="260.4" r="0.45" fill="#8a90e0" fill-opacity="0.35"/>
<circle cx="50.1" cy="265.5" r="0.45" fill="#4a5cc0" fill-opacity="0.35"/>
<circle cx="69.8" cy="268.6" r="0.45" fill="#4a68c8" fill-opacity="0.35"/>
<circle cx="46.1" cy="256.3" r="0.45" fill="#4a68c8" fill-opacity="0.35"/>
<circle cx="60.4" cy="270.1" r="0.45" fill="#6a80d8" fill-opacity="0.35"/>
<circle cx="60.6" cy="262.3" r="0.45" fill="#8a90e0" fill-opacity="0.35"/>
<circle cx="40.9" cy="265.9" r="0.45" fill="#4a5cc0" fill-opacity="0.35"/>
<circle cx="54.8" cy="258.6" r="0.45" fill="#6a80d8" fill-opacity="0.35"/>
<circle cx="58.1" cy="262.3" r="0.45" fill="#4a5cc0" fill-opacity="0.35"/>
<circle cx="63.3" cy="267.0" r="0.45" fill="#4a5cc0" fill-opacity="0.35"/>
<circle cx="51.2" cy="261.2" r="0.45" fill="#4a68c8" fill-opacity="0.35"/>
<circle cx="58.1" cy="270.0" r="0.45" fill="#5a78d8" fill-opacity="0.35"/>
<circle cx="56.4" cy="265.5" r="0.45" fill="#8a90e0" fill-opacity="0.35"/>
<circle cx="48.6" cy="266.6" r="0.45" fill="#5a78d8" fill-opacity="0.35"/>
<circle cx="54.1" cy="258.8" r="0.45" fill="#6a80d8" fill-opacity="0.35"/>
<circle cx="66.7" cy="262.4" r="0.45" fill="#5a78d8" fill-opacity="0.35"/>
<circle cx="61.5" cy="257.2" r="0.45" fill="#4a68c8" fill-opacity="0.35"/>
<circle cx="53.3" cy="264.9" r="0.45" fill="#6a80d8" fill-opacity="0.35"/>
<circle cx="54.6" cy="274.3" r="0.45" fill="#4a68c8" fill-opacity="0.35"/>
<circle cx="44.7" cy="270.5" r="0.45" fill="#4a5cc0" fill-opacity="0.35"/>
<circle cx="63.6" cy="256.5" r="0.45" fill="#6a80d8" fill-opacity="0.35"/>
<circle cx="54.7" cy="268.0" r="0.45" fill="#6a80d8" fill-opacity="0.35"/>
<circle cx="47.5" cy="272.6" r="0.45" fill="#6a80d8" fill-opacity="0.35"/>
<circle cx="67.5" cy="265.8" r="0.45" fill="#4a5cc0" fill-opacity="0.35"/>
<circle cx="56.5" cy="267.0" r="0.45" fill="#6a80d8" fill-opacity="0.35"/>
<circle cx="58.2" cy="270.7" r="0.45" fill="#8a90e0" fill-opacity="0.35"/>
<circle cx="59.8" cy="265.1" r="0.45" fill="#6a80d8" fill-opacity="0.35"/>
<circle cx="51.1" cy="261.6" r="0.45" fill="#4a68c8" fill-opacity="0.35"/>
<circle cx="67.6" cy="269.9" r="0.45" fill="#4a68c8" fill-opacity="0.35"/>
<circle cx="54.6" cy="267.6" r="0.45" fill="#5a78d8" fill-opacity="0.35"/>
<circle cx="66.7" cy="263.4" r="0.45" fill="#8a90e0" fill-opacity="0.35"/>
<circle cx="58.8" cy="256.8" r="0.45" fill="#8a90e0" fill-opacity="0.35"/>
<circle cx="45.5" cy="252.3" r="0.45" fill="#4a68c8" fill-opacity="0.39"/>
<circle cx="31.9" cy="255.8" r="0.45" fill="#5a78d8" fill-opacity="0.39"/>
<circle cx="43.9" cy="250.3" r="0.45" fill="#8a90e0" fill-opacity="0.39"/>
<circle cx="36.6" cy="255.2" r="0.45" fill="#8a90e0" fill-opacity="0.39"/>
<circle cx="47.7" cy="252.6" r="0.45" fill="#5a78d8" fill-opacity="0.39"/>
<circle cx="41.3" cy="255.1" r="0.45" fill="#8a90e0" fill-opacity="0.39"/>
<circle cx="45.4" cy="252.6" r="0.45" fill="#4a68c8" fill-opacity="0.39"/>
<circle cx="36.1" cy="250.9" r="0.45" fill="#5a78d8" fill-opacity="0.39"/>
<circle cx="60.6" cy="252.9" r="0.45" fill="#5a78d8" fill-opacity="0.39"/>
<circle cx="47.9" cy="252.8" r="0.45" fill="#5a78d8" fill-opacity="0.39"/>
<circle cx="40.1" cy="255.6" r="0.45" fill="#6a80d8" fill-opacity="0.39"/>
<circle cx="44.9" cy="252.6" r="0.45" fill="#8a90e0" fill-opacity="0.39"/>
<circle cx="52.1" cy="255.6" r="0.45" fill="#8a90e0" fill-opacity="0.39"/>
<circle cx="34.8" cy="253.7" r="0.45" fill="#5a78d8" fill-opacity="0.39"/>
<circle cx="49.8" cy="250.1" r="0.45" fill="#5a78d8" fill-opacity="0.39"/>
<circle cx="44.9" cy="255.1" r="0.45" fill="#6a80d8" fill-opacity="0.39"/>
<circle cx="64.4" cy="251.9" r="0.45" fill="#4a68c8" fill-opacity="0.39"/>
<circle cx="51.0" cy="250.3" r="0.45" fill="#6a80d8" fill-opacity="0.39"/>
<circle cx="58.9" cy="250.7" r="0.45" fill="#4a68c8" fill-opacity="0.39"/>
<circle cx="34.1" cy="251.7" r="0.45" fill="#4a68c8" fill-opacity="0.39"/>
<circle cx="46.2" cy="251.7" r="0.45" fill="#4a68c8" fill-opacity="0.39"/>
<circle cx="41.4" cy="252.6" r="0.45" fill="#5a78d8" fill-opacity="0.39"/>
<circle cx="42.4" cy="253.0" r="0.45" fill="#4a5cc0" fill-opacity="0.39"/>
<circle cx="41.9" cy="251.8" r="0.45" fill="#4a5cc0" fill-opacity="0.39"/>
<circle cx="48.6" cy="252.9" r="0.45" fill="#8a90e0" fill-opacity="0.39"/>
<circle cx="37.1" cy="253.4" r="0.45" fill="#8a90e0" fill-opacity="0.39"/>
<circle cx="48.1" cy="254.2" r="0.45" fill="#8a90e0" fill-opacity="0.39"/>
<circle cx="52.7" cy="257.3" r="0.45" fill="#4a5cc0" fill-opacity="0.39"/>
<circle cx="53.7" cy="251.1" r="0.45" fill="#6a80d8" fill-opacity="0.39"/>
<circle cx="50.6" cy="254.9" r="0.45" fill="#5a78d8" fill-opacity="0.39"/>
<circle cx="46.7" cy="254.4" r="0.45" fill="#8a90e0" fill-opacity="0.39"/>
<circle cx="55.3" cy="254.0" r="0.45" fill="#8a90e0" fill-opacity="0.39"/>
<circle cx="43.6" cy="251.8" r="0.45" fill="#4a68c8" fill-opacity="0.39"/>
<circle cx="29.8" cy="253.5" r="0.45" fill="#6a80d8" fill-opacity="0.39"/>
<circle cx="36.6" cy="251.7" r="0.45" fill="#8a90e0" fill-opacity="0.39"/>
<circle cx="43.8" cy="254.5" r="0.45" fill="#8a90e0" fill-opacity="0.39"/>
<circle cx="42.7" cy="252.2" r="0.45" fill="#8a90e0" fill-opacity="0.39"/>
<circle cx="35.5" cy="253.3" r="0.45" fill="#8a90e0" fill-opacity="0.39"/>
<circle cx="32.7" cy="250.7" r="0.45" fill="#6a80d8" fill-opacity="0.39"/>
<circle cx="41.2" cy="251.7" r="0.45" fill="#4a5cc0" fill-opacity="0.39"/>
<circle cx="39.5" cy="252.1" r="0.45" fill="#4a5cc0" fill-opacity="0.39"/>
<circle cx="33.9" cy="253.3" r="0.45" fill="#4a68c8" fill-opacity="0.39"/>
<circle cx="38.6" cy="252.1" r="0.45" fill="#8a90e0" fill-opacity="0.39"/>
<circle cx="37.9" cy="252.3" r="0.45" fill="#6a80d8" fill-opacity="0.39"/>
<circle cx="38.8" cy="254.9" r="0.45" fill="#6a80d8" fill-opacity="0.39"/>
<circle cx="40.7" cy="250.9" r="0.45" fill="#5a78d8" fill-opacity="0.39"/>
<circle cx="35.8" cy="251.9" r="0.45" fill="#8a90e0" fill-opacity="0.39"/>
<circle cx="54.3" cy="251.1" r="0.45" fill="#8a90e0" fill-opacity="0.42"/>
<circle cx="48.1" cy="253.3" r="0.45" fill="#4a5cc0" fill-opacity="0.42"/>
<circle cx="42.5" cy="252.4" r="0.45" fill="#4a5cc0" fill-opacity="0.42"/>
<circle cx="48.9" cy="251.2" r="0.45" fill="#8a90e0" fill-opacity="0.42"/>
<circle cx="48.7" cy="250.2" r="0.45" fill="#6a80d8" fill-opacity="0.42"/>
<circle cx="54.9" cy="252.3" r="0.45" fill="#4a5cc0" fill-opacity="0.42"/>
<circle cx="47.2" cy="250.1" r="0.45" fill="#6a80d8" fill-opacity="0.42"/>
<circle cx="51.7" cy="252.0" r="0.45" fill="#6a80d8" fill-opacity="0.42"/>
<circle cx="46.8" cy="252.7" r="0.45" fill="#8a90e0" fill-opacity="0.42"/>
<circle cx="57.0" cy="252.5" r="0.45" fill="#4a5cc0" fill-opacity="0.42"/>
<circle cx="49.5" cy="254.5" r="0.45" fill="#5a78d8" fill-opacity="0.42"/>
<circle cx="45.3" cy="250.1" r="0.45" fill="#6a80d8" fill-opacity="0.42"/>
<circle cx="53.0" cy="253.1" r="0.45" fill="#6a80d8" fill-opacity="0.42"/>
<circle cx="53.7" cy="252.4" r="0.45" fill="#5a78d8" fill-opacity="0.42"/>
<circle cx="42.3" cy="264.8" r="0.45" fill="#5a78d8" fill-opacity="0.42"/>
<circle cx="42.6" cy="258.4" r="0.45" fill="#4a5cc0" fill-opacity="0.42"/>
<circle cx="44.8" cy="260.2" r="0.45" fill="#8a90e0" fill-opacity="0.42"/>
<circle cx="37.0" cy="269.3" r="0.45" fill="#5a78d8" fill-opacity="0.42"/>
<circle cx="39.5" cy="260.5" r="0.45" fill="#4a68c8" fill-opacity="0.42"/>
<circle cx="40.2" cy="272.9" r="0.45" fill="#6a80d8" fill-opacity="0.42"/>
<circle cx="38.2" cy="263.8" r="0.45" fill="#6a80d8" fill-opacity="0.42"/>
<circle cx="37.0" cy="259.5" r="0.45" fill="#6a80d8" fill-opacity="0.42"/>
<circle cx="37.9" cy="261.4" r="0.45" fill="#4a5cc0" fill-opacity="0.42"/>
<circle cx="34.4" cy="268.4" r="0.45" fill="#4a68c8" fill-opacity="0.42"/>
<circle cx="41.1" cy="257.0" r="0.45" fill="#4a5cc0" fill-opacity="0.42"/>
<circle cx="36.6" cy="269.8" r="0.45" fill="#6a80d8" fill-opacity="0.42"/>
<circle cx="32.9" cy="247.1" r="0.45" fill="#6a80d8" fill-opacity="0.42"/>
<circle cx="33.8" cy="265.4" r="0.45" fill="#8a90e0" fill-opacity="0.42"/>
<circle cx="43.8" cy="262.0" r="0.45" fill="#4a5cc0" fill-opacity="0.42"/>
<circle cx="38.1" cy="263.5" r="0.45" fill="#4a68c8" fill-opacity="0.42"/>
<circle cx="41.2" cy="269.8" r="0.45" fill="#4a68c8" fill-opacity="0.42"/>
<circle cx="37.6" cy="269.5" r="0.45" fill="#5a78d8" fill-opacity="0.42"/>
<circle cx="33.9" cy="266.0" r="0.45" fill="#8a90e0" fill-opacity="0.42"/>
<circle cx="38.9" cy="262.4" r="0.45" fill="#6a80d8" fill-opacity="0.42"/>
<circle cx="38.7" cy="269.1" r="0.45" fill="#8a90e0" fill-opacity="0.42"/>
<circle cx="35.5" cy="255.7" r="0.45" fill="#5a78d8" fill-opacity="0.42"/>
<circle cx="38.5" cy="257.4" r="0.45" fill="#4a5cc0" fill-opacity="0.42"/>
<circle cx="40.3" cy="255.4" r="0.45" fill="#8a90e0" fill-opacity="0.42"/>
<circle cx="33.8" cy="260.6" r="0.45" fill="#4a68c8" fill-opacity="0.42"/>
<circle cx="33.9" cy="267.3" r="0.45" fill="#4a5cc0" fill-opacity="0.42"/>
<circle cx="32.8" cy="264.9" r="0.45" fill="#4a5cc0" fill-opacity="0.42"/>
<circle cx="41.7" cy="271.6" r="0.45" fill="#6a80d8" fill-opacity="0.42"/>
<circle cx="42.8" cy="258.3" r="0.45" fill="#6a80d8" fill-opacity="0.42"/>
<circle cx="38.1" cy="269.8" r="0.45" fill="#4a5cc0" fill-opacity="0.42"/>
<circle cx="35.5" cy="267.6" r="0.45" fill="#6a80d8" fill-opacity="0.42"/>
<circle cx="37.6" cy="254.4" r="0.45" fill="#4a68c8" fill-opacity="0.42"/>
<circle cx="39.9" cy="253.2" r="0.45" fill="#6a80d8" fill-opacity="0.42"/>
<circle cx="34.7" cy="256.5" r="0.45" fill="#8a90e0" fill-opacity="0.42"/>
<circle cx="37.2" cy="272.9" r="0.45" fill="#8a90e0" fill-opacity="0.42"/>
<circle cx="37.3" cy="267.3" r="0.45" fill="#4a5cc0" fill-opacity="0.42"/>
<circle cx="37.2" cy="267.3" r="0.45" fill="#4a5cc0" fill-opacity="0.42"/>
<circle cx="37.7" cy="259.4" r="0.45" fill="#8a90e0" fill-opacity="0.42"/>
<circle cx="36.2" cy="271.3" r="0.45" fill="#4a68c8" fill-opacity="0.42"/>
<circle cx="36.7" cy="273.4" r="0.45" fill="#4a5cc0" fill-opacity="0.42"/>
<circle cx="34.4" cy="259.0" r="0.45" fill="#4a68c8" fill-opacity="0.42"/>
<circle cx="36.7" cy="268.4" r="0.45" fill="#8a90e0" fill-opacity="0.42"/>
<circle cx="41.3" cy="275.3" r="0.45" fill="#8a90e0" fill-opacity="0.42"/>
<circle cx="31.8" cy="264.9" r="0.45" fill="#6a80d8" fill-opacity="0.42"/>
<circle cx="37.0" cy="258.1" r="0.45" fill="#6a80d8" fill-opacity="0.42"/>
<circle cx="40.7" cy="265.0" r="0.45" fill="#5a78d8" fill-opacity="0.42"/>
<circle cx="36.7" cy="251.8" r="0.45" fill="#4a68c8" fill-opacity="0.42"/>
<circle cx="35.2" cy="267.4" r="0.45" fill="#8a90e0" fill-opacity="0.42"/>
<circle cx="37.6" cy="270.7" r="0.45" fill="#4a68c8" fill-opacity="0.42"/>
<circle cx="43.5" cy="265.6" r="0.45" fill="#5a78d8" fill-opacity="0.42"/>
<circle cx="40.2" cy="264.3" r="0.45" fill="#8a90e0" fill-opacity="0.42"/>
<circle cx="40.1" cy="261.3" r="0.45" fill="#6a80d8" fill-opacity="0.42"/>
<circle cx="37.5" cy="257.6" r="0.45" fill="#8a90e0" fill-opacity="0.42"/>
<circle cx="40.6" cy="266.8" r="0.45" fill="#5a78d8" fill-opacity="0.42"/>
<circle cx="35.6" cy="252.3" r="0.45" fill="#6a80d8" fill-opacity="0.42"/>
<circle cx="35.9" cy="265.5" r="0.45" fill="#4a5cc0" fill-opacity="0.42"/>
<circle cx="37.5" cy="259.8" r="0.45" fill="#8a90e0" fill-opacity="0.42"/>
<circle cx="32.0" cy="265.1" r="0.45" fill="#6a80d8" fill-opacity="0.42"/>
<circle cx="38.4" cy="260.1" r="0.45" fill="#8a90e0" fill-opacity="0.42"/>
<circle cx="34.8" cy="260.8" r="0.45" fill="#4a5cc0" fill-opacity="0.42"/>
<circle cx="47.3" cy="267.5" r="0.45" fill="#5a78d8" fill-opacity="0.42"/>
<circle cx="39.5" cy="257.6" r="0.45" fill="#4a68c8" fill-opacity="0.42"/>
<circle cx="36.0" cy="271.9" r="0.45" fill="#4a5cc0" fill-opacity="0.66"/>
<circle cx="38.9" cy="268.5" r="0.45" fill="#4a68c8" fill-opacity="0.66"/>
<circle cx="34.5" cy="262.7" r="0.45" fill="#8a90e0" fill-opacity="0.66"/>
<circle cx="37.8" cy="263.1" r="0.45" fill="#8a90e0" fill-opacity="0.66"/>
<circle cx="37.0" cy="269.8" r="0.45" fill="#6a80d8" fill-opacity="0.66"/>
<circle cx="38.3" cy="268.9" r="0.45" fill="#4a5cc0" fill-opacity="0.66"/>
<circle cx="36.1" cy="270.5" r="0.45" fill="#6a80d8" fill-opacity="0.66"/>
<circle cx="35.9" cy="263.8" r="0.45" fill="#5a78d8" fill-opacity="0.66"/>
<circle cx="39.8" cy="268.5" r="0.45" fill="#5a78d8" fill-opacity="0.66"/>
<circle cx="32.4" cy="268.2" r="0.45" fill="#5a78d8" fill-opacity="0.66"/>
<circle cx="37.6" cy="272.5" r="0.45" fill="#8a90e0" fill-opacity="0.66"/>
<circle cx="35.1" cy="269.0" r="0.45" fill="#8a90e0" fill-opacity="0.66"/>
<circle cx="39.1" cy="270.9" r="0.45" fill="#4a68c8" fill-opacity="0.66"/>
<circle cx="37.4" cy="263.6" r="0.45" fill="#4a5cc0" fill-opacity="0.66"/>
<circle cx="33.6" cy="275.6" r="0.45" fill="#6a80d8" fill-opacity="0.35"/>
<circle cx="32.9" cy="275.8" r="0.45" fill="#8a90e0" fill-opacity="0.35"/>
<circle cx="33.4" cy="273.7" r="0.45" fill="#4a5cc0" fill-opacity="0.35"/>
<circle cx="31.0" cy="271.3" r="0.45" fill="#4a68c8" fill-opacity="0.35"/>
<circle cx="30.3" cy="274.2" r="0.45" fill="#8a90e0" fill-opacity="0.35"/>
<circle cx="33.2" cy="273.2" r="0.45" fill="#4a68c8" fill-opacity="0.35"/>
<circle cx="37.2" cy="273.7" r="0.45" fill="#8a90e0" fill-opacity="0.35"/>
<circle cx="33.7" cy="274.3" r="0.45" fill="#8a90e0" fill-opacity="0.35"/>
<rect x="29.00" y="235.20" width="45.40" height="42.00" fill="none" stroke="#c9c6d2" stroke-width="1"/>
<rect x="45.60" y="237.40" width="26.40" height="20.40" fill="none" stroke="#cbbfd6" stroke-width="1"/>
<text x="56.10" y="248.00" font-size="5.9" text-anchor="start" textLength="8.60" lengthAdjust="spacingAndGlyphs" fill="#333" stroke="#333" stroke-width="0.12">5.5</text>
<text x="23.30" y="279.00" font-size="4.6" text-anchor="middle" fill="#6a6a6a">10<tspan font-size="3.59" dy="-1.93">0</tspan></text>
<text x="29.60" y="283.60" font-size="4.6" text-anchor="middle" fill="#6a6a6a">10<tspan font-size="3.59" dy="-1.93">0</tspan></text>
<text x="23.30" y="268.50" font-size="4.6" text-anchor="middle" fill="#6a6a6a">10<tspan font-size="3.59" dy="-1.93">1</tspan></text>
<text x="40.80" y="283.60" font-size="4.6" text-anchor="middle" fill="#6a6a6a">10<tspan font-size="3.59" dy="-1.93">1</tspan></text>
<text x="23.30" y="258.00" font-size="4.6" text-anchor="middle" fill="#6a6a6a">10<tspan font-size="3.59" dy="-1.93">2</tspan></text>
<text x="52.00" y="283.60" font-size="4.6" text-anchor="middle" fill="#6a6a6a">10<tspan font-size="3.59" dy="-1.93">2</tspan></text>
<text x="23.30" y="247.50" font-size="4.6" text-anchor="middle" fill="#6a6a6a">10<tspan font-size="3.59" dy="-1.93">3</tspan></text>
<text x="63.20" y="283.60" font-size="4.6" text-anchor="middle" fill="#6a6a6a">10<tspan font-size="3.59" dy="-1.93">3</tspan></text>
<text x="23.30" y="237.00" font-size="4.6" text-anchor="middle" fill="#6a6a6a">10<tspan font-size="3.59" dy="-1.93">4</tspan></text>
<text x="74.40" y="283.60" font-size="4.6" text-anchor="middle" fill="#6a6a6a">10<tspan font-size="3.59" dy="-1.93">4</tspan></text>
<g filter="url(#b1)">
<ellipse cx="108.00" cy="272.50" rx="17.00" ry="3.50" fill="#c4c6f0" fill-opacity="0.55" transform="rotate(0 108.00 272.50)"/>
<ellipse cx="99.00" cy="268.00" rx="8.00" ry="6.50" fill="#6f8ad8" fill-opacity="0.7" transform="rotate(0 99.00 268.00)"/>
<ellipse cx="112.00" cy="266.50" rx="14.00" ry="6.00" fill="#8a9ce4" fill-opacity="0.6" transform="rotate(0 112.00 266.50)"/>
<ellipse cx="121.00" cy="263.50" rx="6.00" ry="4.50" fill="#6f8ad8" fill-opacity="0.55" transform="rotate(0 121.00 263.50)"/>
<ellipse cx="96.40" cy="268.60" rx="3.00" ry="2.60" fill="#4f8fb8" fill-opacity="0.75" transform="rotate(0 96.40 268.60)"/>
<ellipse cx="123.20" cy="263.20" rx="3.40" ry="4.10" fill="#3f8a5a" fill-opacity="0.95" transform="rotate(0 123.20 263.20)"/>
<ellipse cx="106.00" cy="260.00" rx="8.00" ry="2.50" fill="#c4c6f0" fill-opacity="0.45" transform="rotate(0 106.00 260.00)"/>
</g>
<circle cx="100.3" cy="272.4" r="0.45" fill="#4a68c8" fill-opacity="0.39"/>
<circle cx="106.0" cy="271.4" r="0.45" fill="#8a90e0" fill-opacity="0.39"/>
<circle cx="130.8" cy="275.2" r="0.45" fill="#4a68c8" fill-opacity="0.39"/>
<circle cx="103.3" cy="272.5" r="0.45" fill="#8a90e0" fill-opacity="0.39"/>
<circle cx="105.6" cy="272.6" r="0.45" fill="#8a90e0" fill-opacity="0.39"/>
<circle cx="121.3" cy="272.8" r="0.45" fill="#8a90e0" fill-opacity="0.39"/>
<circle cx="115.3" cy="274.7" r="0.45" fill="#4a68c8" fill-opacity="0.39"/>
<circle cx="110.9" cy="271.9" r="0.45" fill="#6a80d8" fill-opacity="0.39"/>
<circle cx="100.3" cy="269.9" r="0.45" fill="#8a90e0" fill-opacity="0.39"/>
<circle cx="122.8" cy="274.8" r="0.45" fill="#8a90e0" fill-opacity="0.39"/>
<circle cx="109.2" cy="274.0" r="0.45" fill="#4a68c8" fill-opacity="0.39"/>
<circle cx="109.7" cy="275.1" r="0.45" fill="#4a5cc0" fill-opacity="0.39"/>
<circle cx="114.1" cy="272.6" r="0.45" fill="#4a5cc0" fill-opacity="0.39"/>
<circle cx="99.5" cy="271.6" r="0.45" fill="#4a68c8" fill-opacity="0.39"/>
<circle cx="106.5" cy="272.1" r="0.45" fill="#5a78d8" fill-opacity="0.39"/>
<circle cx="114.2" cy="270.3" r="0.45" fill="#4a5cc0" fill-opacity="0.39"/>
<circle cx="97.5" cy="274.2" r="0.45" fill="#6a80d8" fill-opacity="0.39"/>
<circle cx="105.2" cy="270.2" r="0.45" fill="#8a90e0" fill-opacity="0.39"/>
<circle cx="116.6" cy="270.1" r="0.45" fill="#4a68c8" fill-opacity="0.39"/>
<circle cx="102.3" cy="273.2" r="0.45" fill="#4a5cc0" fill-opacity="0.39"/>
<circle cx="99.8" cy="270.7" r="0.45" fill="#5a78d8" fill-opacity="0.39"/>
<circle cx="103.6" cy="269.7" r="0.45" fill="#4a68c8" fill-opacity="0.39"/>
<circle cx="104.2" cy="271.0" r="0.45" fill="#4a68c8" fill-opacity="0.39"/>
<circle cx="100.6" cy="271.6" r="0.45" fill="#6a80d8" fill-opacity="0.39"/>
<circle cx="98.6" cy="272.1" r="0.45" fill="#4a68c8" fill-opacity="0.39"/>
<circle cx="121.5" cy="275.4" r="0.45" fill="#8a90e0" fill-opacity="0.39"/>
<circle cx="99.3" cy="274.2" r="0.45" fill="#5a78d8" fill-opacity="0.39"/>
<circle cx="114.4" cy="272.5" r="0.45" fill="#4a68c8" fill-opacity="0.39"/>
<circle cx="101.4" cy="271.5" r="0.45" fill="#4a68c8" fill-opacity="0.39"/>
<circle cx="99.4" cy="271.2" r="0.45" fill="#8a90e0" fill-opacity="0.39"/>
<circle cx="114.1" cy="271.1" r="0.45" fill="#8a90e0" fill-opacity="0.39"/>
<circle cx="110.4" cy="270.6" r="0.45" fill="#6a80d8" fill-opacity="0.39"/>
<circle cx="113.5" cy="273.2" r="0.45" fill="#4a68c8" fill-opacity="0.39"/>
<circle cx="112.2" cy="274.2" r="0.45" fill="#4a5cc0" fill-opacity="0.39"/>
<circle cx="105.7" cy="273.0" r="0.45" fill="#8a90e0" fill-opacity="0.39"/>
<circle cx="104.8" cy="270.9" r="0.45" fill="#6a80d8" fill-opacity="0.39"/>
<circle cx="113.7" cy="269.8" r="0.45" fill="#4a68c8" fill-opacity="0.39"/>
<circle cx="131.2" cy="271.0" r="0.45" fill="#4a5cc0" fill-opacity="0.39"/>
<circle cx="104.4" cy="272.3" r="0.45" fill="#8a90e0" fill-opacity="0.39"/>
<circle cx="97.2" cy="268.8" r="0.45" fill="#4a68c8" fill-opacity="0.49"/>
<circle cx="94.3" cy="265.2" r="0.45" fill="#4a5cc0" fill-opacity="0.49"/>
<circle cx="98.3" cy="272.8" r="0.45" fill="#4a5cc0" fill-opacity="0.49"/>
<circle cx="99.7" cy="265.4" r="0.45" fill="#4a68c8" fill-opacity="0.49"/>
<circle cx="92.5" cy="264.2" r="0.45" fill="#6a80d8" fill-opacity="0.49"/>
<circle cx="95.6" cy="266.6" r="0.45" fill="#8a90e0" fill-opacity="0.49"/>
<circle cx="100.2" cy="264.2" r="0.45" fill="#4a5cc0" fill-opacity="0.49"/>
<circle cx="101.2" cy="271.4" r="0.45" fill="#8a90e0" fill-opacity="0.49"/>
<circle cx="101.1" cy="266.7" r="0.45" fill="#4a5cc0" fill-opacity="0.49"/>
<circle cx="96.9" cy="268.7" r="0.45" fill="#8a90e0" fill-opacity="0.49"/>
<circle cx="97.3" cy="266.9" r="0.45" fill="#6a80d8" fill-opacity="0.49"/>
<circle cx="97.9" cy="267.0" r="0.45" fill="#6a80d8" fill-opacity="0.49"/>
<circle cx="99.4" cy="263.5" r="0.45" fill="#8a90e0" fill-opacity="0.49"/>
<circle cx="103.7" cy="266.4" r="0.45" fill="#4a68c8" fill-opacity="0.49"/>
<circle cx="100.0" cy="261.0" r="0.45" fill="#4a68c8" fill-opacity="0.49"/>
<circle cx="98.3" cy="272.5" r="0.45" fill="#6a80d8" fill-opacity="0.49"/>
<circle cx="97.1" cy="265.8" r="0.45" fill="#6a80d8" fill-opacity="0.49"/>
<circle cx="94.5" cy="268.7" r="0.45" fill="#4a68c8" fill-opacity="0.49"/>
<circle cx="100.8" cy="267.5" r="0.45" fill="#8a90e0" fill-opacity="0.49"/>
<circle cx="101.6" cy="263.2" r="0.45" fill="#4a68c8" fill-opacity="0.49"/>
<circle cx="100.8" cy="267.1" r="0.45" fill="#4a5cc0" fill-opacity="0.49"/>
<circle cx="94.3" cy="263.1" r="0.45" fill="#4a5cc0" fill-opacity="0.49"/>
<circle cx="93.3" cy="263.0" r="0.45" fill="#4a68c8" fill-opacity="0.49"/>
<circle cx="98.0" cy="269.3" r="0.45" fill="#6a80d8" fill-opacity="0.49"/>
<circle cx="100.4" cy="269.0" r="0.45" fill="#4a68c8" fill-opacity="0.49"/>
<circle cx="98.6" cy="265.9" r="0.45" fill="#8a90e0" fill-opacity="0.49"/>
<circle cx="91.5" cy="263.6" r="0.45" fill="#8a90e0" fill-opacity="0.49"/>
<circle cx="96.6" cy="270.3" r="0.45" fill="#4a68c8" fill-opacity="0.49"/>
<circle cx="98.4" cy="264.7" r="0.45" fill="#6a80d8" fill-opacity="0.49"/>
<circle cx="96.3" cy="271.4" r="0.45" fill="#4a68c8" fill-opacity="0.49"/>
<circle cx="96.0" cy="267.8" r="0.45" fill="#4a5cc0" fill-opacity="0.49"/>
<circle cx="93.4" cy="265.5" r="0.45" fill="#4a68c8" fill-opacity="0.49"/>
<circle cx="99.2" cy="271.3" r="0.45" fill="#8a90e0" fill-opacity="0.49"/>
<circle cx="109.3" cy="268.6" r="0.45" fill="#5a78d8" fill-opacity="0.42"/>
<circle cx="116.9" cy="267.0" r="0.45" fill="#4a5cc0" fill-opacity="0.42"/>
<circle cx="114.5" cy="267.4" r="0.45" fill="#5a78d8" fill-opacity="0.42"/>
<circle cx="119.2" cy="259.8" r="0.45" fill="#8a90e0" fill-opacity="0.42"/>
<circle cx="112.1" cy="265.2" r="0.45" fill="#6a80d8" fill-opacity="0.42"/>
<circle cx="110.8" cy="269.2" r="0.45" fill="#4a68c8" fill-opacity="0.42"/>
<circle cx="115.4" cy="263.8" r="0.45" fill="#5a78d8" fill-opacity="0.42"/>
<circle cx="113.2" cy="268.4" r="0.45" fill="#8a90e0" fill-opacity="0.42"/>
<circle cx="118.0" cy="261.5" r="0.45" fill="#8a90e0" fill-opacity="0.42"/>
<circle cx="113.4" cy="263.9" r="0.45" fill="#6a80d8" fill-opacity="0.42"/>
<circle cx="117.0" cy="268.8" r="0.45" fill="#4a68c8" fill-opacity="0.42"/>
<circle cx="104.4" cy="268.1" r="0.45" fill="#8a90e0" fill-opacity="0.42"/>
<circle cx="113.2" cy="264.4" r="0.45" fill="#8a90e0" fill-opacity="0.42"/>
<circle cx="110.1" cy="270.3" r="0.45" fill="#4a5cc0" fill-opacity="0.42"/>
<circle cx="109.6" cy="261.7" r="0.45" fill="#5a78d8" fill-opacity="0.42"/>
<circle cx="118.7" cy="268.6" r="0.45" fill="#5a78d8" fill-opacity="0.42"/>
<circle cx="114.7" cy="267.9" r="0.45" fill="#4a68c8" fill-opacity="0.42"/>
<circle cx="111.5" cy="266.4" r="0.45" fill="#5a78d8" fill-opacity="0.42"/>
<circle cx="115.6" cy="266.6" r="0.45" fill="#8a90e0" fill-opacity="0.42"/>
<circle cx="121.7" cy="264.4" r="0.45" fill="#4a68c8" fill-opacity="0.42"/>
<circle cx="105.8" cy="266.9" r="0.45" fill="#4a5cc0" fill-opacity="0.42"/>
<circle cx="100.5" cy="265.1" r="0.45" fill="#4a68c8" fill-opacity="0.42"/>
<circle cx="105.2" cy="268.4" r="0.45" fill="#6a80d8" fill-opacity="0.42"/>
<circle cx="98.3" cy="271.9" r="0.45" fill="#8a90e0" fill-opacity="0.42"/>
<circle cx="113.6" cy="264.9" r="0.45" fill="#4a5cc0" fill-opacity="0.42"/>
<circle cx="117.4" cy="267.8" r="0.45" fill="#5a78d8" fill-opacity="0.42"/>
<circle cx="96.5" cy="267.3" r="0.45" fill="#5a78d8" fill-opacity="0.42"/>
<circle cx="115.7" cy="267.3" r="0.45" fill="#6a80d8" fill-opacity="0.42"/>
<circle cx="122.0" cy="267.4" r="0.45" fill="#4a5cc0" fill-opacity="0.42"/>
<circle cx="113.4" cy="267.3" r="0.45" fill="#4a68c8" fill-opacity="0.42"/>
<circle cx="105.7" cy="268.6" r="0.45" fill="#6a80d8" fill-opacity="0.42"/>
<circle cx="113.0" cy="272.8" r="0.45" fill="#4a5cc0" fill-opacity="0.42"/>
<circle cx="105.5" cy="266.1" r="0.45" fill="#8a90e0" fill-opacity="0.42"/>
<circle cx="110.9" cy="263.5" r="0.45" fill="#6a80d8" fill-opacity="0.42"/>
<circle cx="106.9" cy="270.9" r="0.45" fill="#8a90e0" fill-opacity="0.42"/>
<circle cx="105.1" cy="265.4" r="0.45" fill="#6a80d8" fill-opacity="0.42"/>
<circle cx="103.9" cy="271.3" r="0.45" fill="#4a68c8" fill-opacity="0.42"/>
<circle cx="111.3" cy="261.1" r="0.45" fill="#6a80d8" fill-opacity="0.42"/>
<circle cx="107.0" cy="266.0" r="0.45" fill="#5a78d8" fill-opacity="0.42"/>
<circle cx="111.6" cy="263.3" r="0.45" fill="#4a5cc0" fill-opacity="0.42"/>
<circle cx="101.9" cy="264.2" r="0.45" fill="#8a90e0" fill-opacity="0.42"/>
<circle cx="113.0" cy="263.8" r="0.45" fill="#4a5cc0" fill-opacity="0.42"/>
<circle cx="106.7" cy="263.5" r="0.45" fill="#5a78d8" fill-opacity="0.42"/>
<circle cx="104.4" cy="267.8" r="0.45" fill="#5a78d8" fill-opacity="0.42"/>
<circle cx="120.3" cy="270.7" r="0.45" fill="#6a80d8" fill-opacity="0.42"/>
<circle cx="134.0" cy="267.7" r="0.45" fill="#8a90e0" fill-opacity="0.42"/>
<circle cx="116.9" cy="267.3" r="0.45" fill="#4a5cc0" fill-opacity="0.42"/>
<circle cx="107.3" cy="268.1" r="0.45" fill="#5a78d8" fill-opacity="0.42"/>
<circle cx="119.2" cy="266.9" r="0.45" fill="#4a5cc0" fill-opacity="0.42"/>
<circle cx="112.6" cy="267.7" r="0.45" fill="#6a80d8" fill-opacity="0.42"/>
<circle cx="113.9" cy="268.6" r="0.45" fill="#8a90e0" fill-opacity="0.42"/>
<circle cx="106.1" cy="259.7" r="0.45" fill="#8a90e0" fill-opacity="0.42"/>
<circle cx="120.8" cy="268.2" r="0.45" fill="#8a90e0" fill-opacity="0.42"/>
<circle cx="99.2" cy="264.3" r="0.45" fill="#5a78d8" fill-opacity="0.42"/>
<circle cx="115.4" cy="265.7" r="0.45" fill="#4a68c8" fill-opacity="0.42"/>
<circle cx="109.0" cy="265.3" r="0.45" fill="#5a78d8" fill-opacity="0.42"/>
<circle cx="121.8" cy="267.3" r="0.45" fill="#5a78d8" fill-opacity="0.42"/>
<circle cx="111.6" cy="264.6" r="0.45" fill="#8a90e0" fill-opacity="0.42"/>
<circle cx="120.8" cy="264.1" r="0.45" fill="#4a5cc0" fill-opacity="0.39"/>
<circle cx="120.9" cy="261.6" r="0.45" fill="#4a68c8" fill-opacity="0.39"/>
<circle cx="122.2" cy="263.9" r="0.45" fill="#5a78d8" fill-opacity="0.39"/>
<circle cx="120.1" cy="261.1" r="0.45" fill="#4a5cc0" fill-opacity="0.39"/>
<circle cx="121.0" cy="264.2" r="0.45" fill="#8a90e0" fill-opacity="0.39"/>
<circle cx="118.8" cy="262.8" r="0.45" fill="#4a5cc0" fill-opacity="0.39"/>
<circle cx="120.3" cy="267.7" r="0.45" fill="#8a90e0" fill-opacity="0.39"/>
<circle cx="120.9" cy="265.2" r="0.45" fill="#6a80d8" fill-opacity="0.39"/>
<circle cx="121.7" cy="265.3" r="0.45" fill="#5a78d8" fill-opacity="0.39"/>
<circle cx="123.5" cy="266.4" r="0.45" fill="#4a5cc0" fill-opacity="0.39"/>
<circle cx="120.9" cy="265.5" r="0.45" fill="#5a78d8" fill-opacity="0.39"/>
<circle cx="120.2" cy="264.2" r="0.45" fill="#6a80d8" fill-opacity="0.39"/>
<circle cx="117.0" cy="260.7" r="0.45" fill="#4a5cc0" fill-opacity="0.39"/>
<circle cx="119.7" cy="267.3" r="0.45" fill="#5a78d8" fill-opacity="0.39"/>
<circle cx="120.1" cy="262.7" r="0.45" fill="#4a68c8" fill-opacity="0.39"/>
<circle cx="125.2" cy="259.8" r="0.45" fill="#6a80d8" fill-opacity="0.39"/>
<circle cx="113.7" cy="262.4" r="0.45" fill="#4a68c8" fill-opacity="0.39"/>
<circle cx="128.6" cy="267.7" r="0.45" fill="#4a68c8" fill-opacity="0.39"/>
<circle cx="98.2" cy="267.3" r="0.45" fill="#8a90e0" fill-opacity="0.52"/>
<circle cx="98.4" cy="269.1" r="0.45" fill="#5a78d8" fill-opacity="0.52"/>
<circle cx="97.4" cy="266.7" r="0.45" fill="#8a90e0" fill-opacity="0.52"/>
<circle cx="95.9" cy="267.1" r="0.45" fill="#6a80d8" fill-opacity="0.52"/>
<circle cx="96.1" cy="268.9" r="0.45" fill="#4a68c8" fill-opacity="0.52"/>
<circle cx="122.5" cy="262.4" r="0.45" fill="#8a90e0" fill-opacity="0.66"/>
<circle cx="120.6" cy="263.8" r="0.45" fill="#4a5cc0" fill-opacity="0.66"/>
<circle cx="121.9" cy="260.7" r="0.45" fill="#4a5cc0" fill-opacity="0.66"/>
<circle cx="121.0" cy="262.8" r="0.45" fill="#8a90e0" fill-opacity="0.66"/>
<circle cx="122.0" cy="265.7" r="0.45" fill="#4a68c8" fill-opacity="0.66"/>
<circle cx="121.8" cy="265.0" r="0.45" fill="#8a90e0" fill-opacity="0.66"/>
<circle cx="121.9" cy="262.4" r="0.45" fill="#4a5cc0" fill-opacity="0.66"/>
<circle cx="124.0" cy="263.5" r="0.45" fill="#4a5cc0" fill-opacity="0.66"/>
<circle cx="121.0" cy="261.6" r="0.45" fill="#4a68c8" fill-opacity="0.66"/>
<circle cx="103.7" cy="261.6" r="0.45" fill="#4a5cc0" fill-opacity="0.32"/>
<circle cx="99.9" cy="259.1" r="0.45" fill="#8a90e0" fill-opacity="0.32"/>
<circle cx="112.4" cy="259.2" r="0.45" fill="#5a78d8" fill-opacity="0.32"/>
<circle cx="107.1" cy="257.1" r="0.45" fill="#5a78d8" fill-opacity="0.32"/>
<circle cx="105.3" cy="259.5" r="0.45" fill="#5a78d8" fill-opacity="0.32"/>
<circle cx="111.8" cy="259.5" r="0.45" fill="#6a80d8" fill-opacity="0.32"/>
<circle cx="107.9" cy="260.9" r="0.45" fill="#4a5cc0" fill-opacity="0.32"/>
<circle cx="106.8" cy="260.3" r="0.45" fill="#5a78d8" fill-opacity="0.32"/>
<circle cx="115.6" cy="258.6" r="0.45" fill="#4a68c8" fill-opacity="0.32"/>
<circle cx="105.3" cy="260.5" r="0.45" fill="#6a80d8" fill-opacity="0.32"/>
<circle cx="102.5" cy="258.5" r="0.45" fill="#4a5cc0" fill-opacity="0.32"/>
<circle cx="101.4" cy="261.2" r="0.45" fill="#4a5cc0" fill-opacity="0.32"/>
<circle cx="105.4" cy="260.8" r="0.45" fill="#5a78d8" fill-opacity="0.32"/>
<circle cx="108.4" cy="259.8" r="0.45" fill="#4a5cc0" fill-opacity="0.32"/>
<rect x="89.40" y="234.70" width="45.90" height="41.90" fill="none" stroke="#c9c6d2" stroke-width="1"/>
<rect x="106.00" y="237.20" width="26.00" height="20.60" fill="none" stroke="#cbbfd6" stroke-width="1"/>
<text x="116.00" y="248.00" font-size="5.9" text-anchor="start" textLength="7.60" lengthAdjust="spacingAndGlyphs" fill="#333" stroke="#333" stroke-width="0.12">0.6</text>
<text x="83.30" y="278.40" font-size="4.6" text-anchor="middle" fill="#6a6a6a">10<tspan font-size="3.59" dy="-1.93">0</tspan></text>
<text x="90.00" y="283.60" font-size="4.6" text-anchor="middle" fill="#6a6a6a">10<tspan font-size="3.59" dy="-1.93">0</tspan></text>
<text x="83.30" y="267.93" font-size="4.6" text-anchor="middle" fill="#6a6a6a">10<tspan font-size="3.59" dy="-1.93">1</tspan></text>
<text x="101.33" y="283.60" font-size="4.6" text-anchor="middle" fill="#6a6a6a">10<tspan font-size="3.59" dy="-1.93">1</tspan></text>
<text x="83.30" y="257.45" font-size="4.6" text-anchor="middle" fill="#6a6a6a">10<tspan font-size="3.59" dy="-1.93">2</tspan></text>
<text x="112.65" y="283.60" font-size="4.6" text-anchor="middle" fill="#6a6a6a">10<tspan font-size="3.59" dy="-1.93">2</tspan></text>
<text x="83.30" y="246.98" font-size="4.6" text-anchor="middle" fill="#6a6a6a">10<tspan font-size="3.59" dy="-1.93">3</tspan></text>
<text x="123.97" y="283.60" font-size="4.6" text-anchor="middle" fill="#6a6a6a">10<tspan font-size="3.59" dy="-1.93">3</tspan></text>
<text x="83.30" y="236.50" font-size="4.6" text-anchor="middle" fill="#6a6a6a">10<tspan font-size="3.59" dy="-1.93">4</tspan></text>
<text x="135.30" y="283.60" font-size="4.6" text-anchor="middle" fill="#6a6a6a">10<tspan font-size="3.59" dy="-1.93">4</tspan></text>
<g filter="url(#b1)">
<ellipse cx="48.00" cy="340.00" rx="17.00" ry="3.00" fill="#c4c6f0" fill-opacity="0.5" transform="rotate(-8 48.00 340.00)"/>
<ellipse cx="38.00" cy="337.00" rx="8.00" ry="5.50" fill="#6f8ad8" fill-opacity="0.65" transform="rotate(-10 38.00 337.00)"/>
<ellipse cx="50.00" cy="334.00" rx="15.00" ry="5.00" fill="#8a9ce4" fill-opacity="0.6" transform="rotate(-12 50.00 334.00)"/>
<ellipse cx="59.00" cy="331.50" rx="7.00" ry="4.50" fill="#5c78d0" fill-opacity="0.6" transform="rotate(-12 59.00 331.50)"/>
<ellipse cx="35.80" cy="337.00" rx="2.60" ry="2.20" fill="#4aa080" fill-opacity="0.7" transform="rotate(0 35.80 337.00)"/>
<ellipse cx="63.00" cy="331.50" rx="2.60" ry="4.70" fill="#3f8a58" fill-opacity="0.95" transform="rotate(15 63.00 331.50)"/>
<ellipse cx="45.00" cy="335.00" rx="6.00" ry="3.00" fill="#4a6ac0" fill-opacity="0.5" transform="rotate(-10 45.00 335.00)"/>
</g>
<circle cx="44.9" cy="341.2" r="0.45" fill="#6a80d8" fill-opacity="0.35"/>
<circle cx="61.7" cy="338.8" r="0.45" fill="#4a5cc0" fill-opacity="0.35"/>
<circle cx="42.9" cy="339.5" r="0.45" fill="#4a68c8" fill-opacity="0.35"/>
<circle cx="51.5" cy="336.8" r="0.45" fill="#5a78d8" fill-opacity="0.35"/>
<circle cx="58.3" cy="337.9" r="0.45" fill="#4a5cc0" fill-opacity="0.35"/>
<circle cx="37.7" cy="342.9" r="0.45" fill="#6a80d8" fill-opacity="0.35"/>
<circle cx="58.4" cy="339.5" r="0.45" fill="#6a80d8" fill-opacity="0.35"/>
<circle cx="41.1" cy="341.2" r="0.45" fill="#4a5cc0" fill-opacity="0.35"/>
<circle cx="50.7" cy="339.0" r="0.45" fill="#4a5cc0" fill-opacity="0.35"/>
<circle cx="48.7" cy="340.1" r="0.45" fill="#8a90e0" fill-opacity="0.35"/>
<circle cx="46.5" cy="341.9" r="0.45" fill="#4a68c8" fill-opacity="0.35"/>
<circle cx="62.5" cy="339.9" r="0.45" fill="#6a80d8" fill-opacity="0.35"/>
<circle cx="40.9" cy="340.4" r="0.45" fill="#4a68c8" fill-opacity="0.35"/>
<circle cx="52.1" cy="339.4" r="0.45" fill="#8a90e0" fill-opacity="0.35"/>
<circle cx="58.8" cy="339.6" r="0.45" fill="#4a5cc0" fill-opacity="0.35"/>
<circle cx="53.3" cy="339.8" r="0.45" fill="#4a5cc0" fill-opacity="0.35"/>
<circle cx="49.6" cy="341.0" r="0.45" fill="#5a78d8" fill-opacity="0.35"/>
<circle cx="53.2" cy="339.1" r="0.45" fill="#4a5cc0" fill-opacity="0.35"/>
<circle cx="35.6" cy="340.2" r="0.45" fill="#4a68c8" fill-opacity="0.35"/>
<circle cx="42.8" cy="338.9" r="0.45" fill="#5a78d8" fill-opacity="0.35"/>
<circle cx="59.5" cy="335.4" r="0.45" fill="#5a78d8" fill-opacity="0.35"/>
<circle cx="43.4" cy="341.5" r="0.45" fill="#4a68c8" fill-opacity="0.35"/>
<circle cx="51.0" cy="340.6" r="0.45" fill="#6a80d8" fill-opacity="0.35"/>
<circle cx="41.1" cy="339.7" r="0.45" fill="#4a5cc0" fill-opacity="0.35"/>
<circle cx="46.9" cy="340.7" r="0.45" fill="#4a68c8" fill-opacity="0.35"/>
<circle cx="34.5" cy="340.2" r="0.45" fill="#5a78d8" fill-opacity="0.35"/>
<circle cx="49.1" cy="337.6" r="0.45" fill="#5a78d8" fill-opacity="0.35"/>
<circle cx="58.6" cy="339.3" r="0.45" fill="#8a90e0" fill-opacity="0.35"/>
<circle cx="47.1" cy="340.8" r="0.45" fill="#5a78d8" fill-opacity="0.35"/>
<circle cx="43.3" cy="339.3" r="0.45" fill="#8a90e0" fill-opacity="0.35"/>
<circle cx="41.7" cy="340.8" r="0.45" fill="#5a78d8" fill-opacity="0.35"/>
<circle cx="50.4" cy="339.9" r="0.45" fill="#5a78d8" fill-opacity="0.35"/>
<circle cx="43.1" cy="339.4" r="0.45" fill="#5a78d8" fill-opacity="0.35"/>
<circle cx="34.4" cy="334.4" r="0.45" fill="#6a80d8" fill-opacity="0.45"/>
<circle cx="35.1" cy="338.7" r="0.45" fill="#8a90e0" fill-opacity="0.45"/>
<circle cx="43.4" cy="338.0" r="0.45" fill="#8a90e0" fill-opacity="0.45"/>
<circle cx="33.7" cy="334.0" r="0.45" fill="#6a80d8" fill-opacity="0.45"/>
<circle cx="36.5" cy="343.2" r="0.45" fill="#6a80d8" fill-opacity="0.45"/>
<circle cx="37.6" cy="336.8" r="0.45" fill="#8a90e0" fill-opacity="0.45"/>
<circle cx="40.5" cy="341.1" r="0.45" fill="#4a5cc0" fill-opacity="0.45"/>
<circle cx="35.7" cy="336.0" r="0.45" fill="#4a5cc0" fill-opacity="0.45"/>
<circle cx="41.2" cy="336.8" r="0.45" fill="#4a5cc0" fill-opacity="0.45"/>
<circle cx="33.5" cy="333.6" r="0.45" fill="#4a5cc0" fill-opacity="0.45"/>
<circle cx="42.8" cy="335.6" r="0.45" fill="#4a68c8" fill-opacity="0.45"/>
<circle cx="36.6" cy="335.0" r="0.45" fill="#6a80d8" fill-opacity="0.45"/>
<circle cx="42.5" cy="338.6" r="0.45" fill="#4a5cc0" fill-opacity="0.45"/>
<circle cx="45.7" cy="335.9" r="0.45" fill="#5a78d8" fill-opacity="0.45"/>
<circle cx="39.5" cy="338.3" r="0.45" fill="#8a90e0" fill-opacity="0.45"/>
<circle cx="39.5" cy="336.9" r="0.45" fill="#5a78d8" fill-opacity="0.45"/>
<circle cx="35.3" cy="333.7" r="0.45" fill="#4a5cc0" fill-opacity="0.45"/>
<circle cx="42.8" cy="335.4" r="0.45" fill="#5a78d8" fill-opacity="0.45"/>
<circle cx="40.9" cy="339.3" r="0.45" fill="#8a90e0" fill-opacity="0.45"/>
<circle cx="39.6" cy="338.1" r="0.45" fill="#5a78d8" fill-opacity="0.45"/>
<circle cx="36.9" cy="339.2" r="0.45" fill="#6a80d8" fill-opacity="0.45"/>
<circle cx="46.0" cy="334.0" r="0.45" fill="#8a90e0" fill-opacity="0.45"/>
<circle cx="40.1" cy="335.9" r="0.45" fill="#4a5cc0" fill-opacity="0.45"/>
<circle cx="42.2" cy="333.6" r="0.45" fill="#4a68c8" fill-opacity="0.45"/>
<circle cx="42.9" cy="336.8" r="0.45" fill="#5a78d8" fill-opacity="0.45"/>
<circle cx="43.0" cy="338.3" r="0.45" fill="#6a80d8" fill-opacity="0.45"/>
<circle cx="38.7" cy="333.2" r="0.45" fill="#6a80d8" fill-opacity="0.45"/>
<circle cx="34.7" cy="335.3" r="0.45" fill="#5a78d8" fill-opacity="0.45"/>
<circle cx="51.3" cy="333.6" r="0.45" fill="#8a90e0" fill-opacity="0.42"/>
<circle cx="57.3" cy="330.3" r="0.45" fill="#8a90e0" fill-opacity="0.42"/>
<circle cx="31.1" cy="335.3" r="0.45" fill="#8a90e0" fill-opacity="0.42"/>
<circle cx="45.8" cy="336.8" r="0.45" fill="#5a78d8" fill-opacity="0.42"/>
<circle cx="63.7" cy="333.2" r="0.45" fill="#5a78d8" fill-opacity="0.42"/>
<circle cx="48.1" cy="339.1" r="0.45" fill="#5a78d8" fill-opacity="0.42"/>
<circle cx="54.4" cy="328.5" r="0.45" fill="#8a90e0" fill-opacity="0.42"/>
<circle cx="62.3" cy="330.7" r="0.45" fill="#4a5cc0" fill-opacity="0.42"/>
<circle cx="51.9" cy="338.8" r="0.45" fill="#4a5cc0" fill-opacity="0.42"/>
<circle cx="59.3" cy="330.8" r="0.45" fill="#5a78d8" fill-opacity="0.42"/>
<circle cx="51.4" cy="332.6" r="0.45" fill="#6a80d8" fill-opacity="0.42"/>
<circle cx="47.6" cy="335.4" r="0.45" fill="#8a90e0" fill-opacity="0.42"/>
<circle cx="47.6" cy="338.3" r="0.45" fill="#6a80d8" fill-opacity="0.42"/>
<circle cx="59.6" cy="332.5" r="0.45" fill="#4a68c8" fill-opacity="0.42"/>
<circle cx="51.5" cy="331.6" r="0.45" fill="#8a90e0" fill-opacity="0.42"/>
<circle cx="52.0" cy="335.6" r="0.45" fill="#4a68c8" fill-opacity="0.42"/>
<circle cx="31.1" cy="342.8" r="0.45" fill="#8a90e0" fill-opacity="0.42"/>
<circle cx="48.2" cy="334.4" r="0.45" fill="#4a68c8" fill-opacity="0.42"/>
<circle cx="50.4" cy="336.3" r="0.45" fill="#4a68c8" fill-opacity="0.42"/>
<circle cx="42.9" cy="338.7" r="0.45" fill="#5a78d8" fill-opacity="0.42"/>
<circle cx="57.9" cy="337.8" r="0.45" fill="#4a68c8" fill-opacity="0.42"/>
<circle cx="50.3" cy="336.8" r="0.45" fill="#6a80d8" fill-opacity="0.42"/>
<circle cx="46.7" cy="333.5" r="0.45" fill="#4a68c8" fill-opacity="0.42"/>
<circle cx="34.8" cy="335.1" r="0.45" fill="#8a90e0" fill-opacity="0.42"/>
<circle cx="46.5" cy="329.9" r="0.45" fill="#4a5cc0" fill-opacity="0.42"/>
<circle cx="62.8" cy="331.4" r="0.45" fill="#8a90e0" fill-opacity="0.42"/>
<circle cx="54.4" cy="335.5" r="0.45" fill="#4a68c8" fill-opacity="0.42"/>
<circle cx="49.2" cy="335.3" r="0.45" fill="#4a68c8" fill-opacity="0.42"/>
<circle cx="46.2" cy="337.7" r="0.45" fill="#4a5cc0" fill-opacity="0.42"/>
<circle cx="46.0" cy="333.4" r="0.45" fill="#4a68c8" fill-opacity="0.42"/>
<circle cx="50.9" cy="332.6" r="0.45" fill="#8a90e0" fill-opacity="0.42"/>
<circle cx="44.8" cy="332.2" r="0.45" fill="#4a5cc0" fill-opacity="0.42"/>
<circle cx="52.0" cy="335.8" r="0.45" fill="#4a5cc0" fill-opacity="0.42"/>
<circle cx="42.5" cy="337.9" r="0.45" fill="#6a80d8" fill-opacity="0.42"/>
<circle cx="50.2" cy="332.4" r="0.45" fill="#4a68c8" fill-opacity="0.42"/>
<circle cx="52.7" cy="334.2" r="0.45" fill="#4a5cc0" fill-opacity="0.42"/>
<circle cx="47.2" cy="333.7" r="0.45" fill="#4a5cc0" fill-opacity="0.42"/>
<circle cx="47.7" cy="335.9" r="0.45" fill="#4a68c8" fill-opacity="0.42"/>
<circle cx="50.1" cy="329.9" r="0.45" fill="#5a78d8" fill-opacity="0.42"/>
<circle cx="46.2" cy="333.5" r="0.45" fill="#4a68c8" fill-opacity="0.42"/>
<circle cx="61.2" cy="331.8" r="0.45" fill="#6a80d8" fill-opacity="0.42"/>
<circle cx="60.6" cy="329.3" r="0.45" fill="#4a68c8" fill-opacity="0.42"/>
<circle cx="52.0" cy="332.5" r="0.45" fill="#8a90e0" fill-opacity="0.42"/>
<circle cx="53.3" cy="334.2" r="0.45" fill="#4a5cc0" fill-opacity="0.42"/>
<circle cx="43.7" cy="334.8" r="0.45" fill="#8a90e0" fill-opacity="0.42"/>
<circle cx="53.2" cy="331.0" r="0.45" fill="#4a5cc0" fill-opacity="0.42"/>
<circle cx="58.9" cy="329.7" r="0.45" fill="#8a90e0" fill-opacity="0.42"/>
<circle cx="44.2" cy="336.2" r="0.45" fill="#8a90e0" fill-opacity="0.42"/>
<circle cx="43.9" cy="335.7" r="0.45" fill="#4a5cc0" fill-opacity="0.42"/>
<circle cx="66.0" cy="329.7" r="0.45" fill="#8a90e0" fill-opacity="0.42"/>
<circle cx="45.6" cy="336.0" r="0.45" fill="#4a68c8" fill-opacity="0.42"/>
<circle cx="50.7" cy="334.4" r="0.45" fill="#4a68c8" fill-opacity="0.42"/>
<circle cx="54.0" cy="329.9" r="0.45" fill="#4a68c8" fill-opacity="0.42"/>
<circle cx="59.8" cy="335.0" r="0.45" fill="#4a68c8" fill-opacity="0.42"/>
<circle cx="57.7" cy="331.0" r="0.45" fill="#6a80d8" fill-opacity="0.42"/>
<circle cx="57.2" cy="328.3" r="0.45" fill="#4a5cc0" fill-opacity="0.42"/>
<circle cx="54.4" cy="334.9" r="0.45" fill="#4a68c8" fill-opacity="0.42"/>
<circle cx="55.9" cy="331.1" r="0.45" fill="#4a5cc0" fill-opacity="0.42"/>
<circle cx="66.0" cy="331.3" r="0.45" fill="#4a68c8" fill-opacity="0.42"/>
<circle cx="56.2" cy="333.2" r="0.45" fill="#6a80d8" fill-opacity="0.42"/>
<circle cx="56.5" cy="333.2" r="0.45" fill="#5a78d8" fill-opacity="0.42"/>
<circle cx="58.4" cy="327.8" r="0.45" fill="#5a78d8" fill-opacity="0.42"/>
<circle cx="55.8" cy="334.7" r="0.45" fill="#8a90e0" fill-opacity="0.42"/>
<circle cx="56.5" cy="331.1" r="0.45" fill="#4a5cc0" fill-opacity="0.42"/>
<circle cx="61.5" cy="331.1" r="0.45" fill="#6a80d8" fill-opacity="0.42"/>
<circle cx="57.5" cy="333.4" r="0.45" fill="#6a80d8" fill-opacity="0.42"/>
<circle cx="55.3" cy="329.5" r="0.45" fill="#8a90e0" fill-opacity="0.42"/>
<circle cx="63.7" cy="332.4" r="0.45" fill="#6a80d8" fill-opacity="0.42"/>
<circle cx="55.8" cy="330.4" r="0.45" fill="#4a5cc0" fill-opacity="0.42"/>
<circle cx="53.6" cy="332.6" r="0.45" fill="#4a68c8" fill-opacity="0.42"/>
<circle cx="60.0" cy="332.0" r="0.45" fill="#8a90e0" fill-opacity="0.42"/>
<circle cx="57.9" cy="332.7" r="0.45" fill="#5a78d8" fill-opacity="0.42"/>
<circle cx="62.8" cy="330.7" r="0.45" fill="#6a80d8" fill-opacity="0.42"/>
<circle cx="57.8" cy="332.1" r="0.45" fill="#4a68c8" fill-opacity="0.42"/>
<circle cx="35.6" cy="337.0" r="0.45" fill="#6a80d8" fill-opacity="0.49"/>
<circle cx="37.1" cy="337.3" r="0.45" fill="#5a78d8" fill-opacity="0.49"/>
<circle cx="38.8" cy="338.3" r="0.45" fill="#6a80d8" fill-opacity="0.49"/>
<circle cx="37.1" cy="339.0" r="0.45" fill="#8a90e0" fill-opacity="0.49"/>
<circle cx="63.6" cy="330.1" r="0.45" fill="#8a90e0" fill-opacity="0.66"/>
<circle cx="60.3" cy="330.4" r="0.45" fill="#4a5cc0" fill-opacity="0.66"/>
<circle cx="63.6" cy="331.3" r="0.45" fill="#4a5cc0" fill-opacity="0.66"/>
<circle cx="64.5" cy="328.6" r="0.45" fill="#4a5cc0" fill-opacity="0.66"/>
<circle cx="62.4" cy="331.8" r="0.45" fill="#8a90e0" fill-opacity="0.66"/>
<circle cx="65.7" cy="328.8" r="0.45" fill="#6a80d8" fill-opacity="0.66"/>
<circle cx="64.4" cy="326.8" r="0.45" fill="#5a78d8" fill-opacity="0.66"/>
<circle cx="60.5" cy="329.1" r="0.45" fill="#5a78d8" fill-opacity="0.66"/>
<circle cx="45.9" cy="332.8" r="0.45" fill="#4a68c8" fill-opacity="0.35"/>
<circle cx="48.8" cy="333.5" r="0.45" fill="#4a68c8" fill-opacity="0.35"/>
<circle cx="44.6" cy="336.1" r="0.45" fill="#5a78d8" fill-opacity="0.35"/>
<circle cx="47.2" cy="336.0" r="0.45" fill="#6a80d8" fill-opacity="0.35"/>
<circle cx="45.2" cy="334.7" r="0.45" fill="#4a5cc0" fill-opacity="0.35"/>
<circle cx="43.2" cy="334.6" r="0.45" fill="#5a78d8" fill-opacity="0.35"/>
<circle cx="46.1" cy="335.9" r="0.45" fill="#8a90e0" fill-opacity="0.35"/>
<circle cx="46.3" cy="335.3" r="0.45" fill="#5a78d8" fill-opacity="0.35"/>
<circle cx="48.7" cy="334.9" r="0.45" fill="#6a80d8" fill-opacity="0.35"/>
<circle cx="44.0" cy="336.7" r="0.45" fill="#6a80d8" fill-opacity="0.35"/>
<circle cx="45.5" cy="335.3" r="0.45" fill="#4a5cc0" fill-opacity="0.35"/>
<circle cx="42.5" cy="334.8" r="0.45" fill="#4a5cc0" fill-opacity="0.35"/>
<rect x="29.00" y="302.80" width="45.60" height="41.80" fill="none" stroke="#c9c6d2" stroke-width="1"/>
<rect x="46.00" y="305.00" width="26.00" height="21.20" fill="none" stroke="#cbbfd6" stroke-width="1"/>
<text x="56.40" y="315.60" font-size="5.9" text-anchor="start" textLength="8.00" lengthAdjust="spacingAndGlyphs" fill="#333" stroke="#333" stroke-width="0.12">0.5</text>
<text x="23.30" y="346.40" font-size="4.6" text-anchor="middle" fill="#6a6a6a">10<tspan font-size="3.59" dy="-1.93">0</tspan></text>
<text x="29.60" y="351.20" font-size="4.6" text-anchor="middle" fill="#6a6a6a">10<tspan font-size="3.59" dy="-1.93">0</tspan></text>
<text x="23.30" y="335.95" font-size="4.6" text-anchor="middle" fill="#6a6a6a">10<tspan font-size="3.59" dy="-1.93">1</tspan></text>
<text x="40.85" y="351.20" font-size="4.6" text-anchor="middle" fill="#6a6a6a">10<tspan font-size="3.59" dy="-1.93">1</tspan></text>
<text x="23.30" y="325.50" font-size="4.6" text-anchor="middle" fill="#6a6a6a">10<tspan font-size="3.59" dy="-1.93">2</tspan></text>
<text x="52.10" y="351.20" font-size="4.6" text-anchor="middle" fill="#6a6a6a">10<tspan font-size="3.59" dy="-1.93">2</tspan></text>
<text x="23.30" y="315.05" font-size="4.6" text-anchor="middle" fill="#6a6a6a">10<tspan font-size="3.59" dy="-1.93">3</tspan></text>
<text x="63.35" y="351.20" font-size="4.6" text-anchor="middle" fill="#6a6a6a">10<tspan font-size="3.59" dy="-1.93">3</tspan></text>
<text x="23.30" y="304.60" font-size="4.6" text-anchor="middle" fill="#6a6a6a">10<tspan font-size="3.59" dy="-1.93">4</tspan></text>
<text x="74.60" y="351.20" font-size="4.6" text-anchor="middle" fill="#6a6a6a">10<tspan font-size="3.59" dy="-1.93">4</tspan></text>
<g filter="url(#b1)">
<ellipse cx="113.00" cy="322.00" rx="13.00" ry="4.50" fill="#c4c6f0" fill-opacity="0.5" transform="rotate(0 113.00 322.00)"/>
<ellipse cx="109.00" cy="335.00" rx="17.00" ry="8.50" fill="#8a9ce4" fill-opacity="0.6" transform="rotate(0 109.00 335.00)"/>
<ellipse cx="100.00" cy="336.00" rx="9.00" ry="7.50" fill="#6f8ad8" fill-opacity="0.7" transform="rotate(0 100.00 336.00)"/>
<ellipse cx="100.50" cy="334.50" rx="4.30" ry="3.70" fill="#66ae52" fill-opacity="0.92" transform="rotate(-30 100.50 334.50)"/>
<ellipse cx="123.00" cy="331.50" rx="3.00" ry="4.20" fill="#6a80b8" fill-opacity="0.8" transform="rotate(0 123.00 331.50)"/>
<ellipse cx="110.00" cy="342.50" rx="17.00" ry="2.50" fill="#c4c6f0" fill-opacity="0.5" transform="rotate(0 110.00 342.50)"/>
</g>
<circle cx="119.0" cy="323.0" r="0.45" fill="#5a78d8" fill-opacity="0.35"/>
<circle cx="107.5" cy="326.8" r="0.45" fill="#4a5cc0" fill-opacity="0.35"/>
<circle cx="105.8" cy="324.9" r="0.45" fill="#4a68c8" fill-opacity="0.35"/>
<circle cx="110.0" cy="322.7" r="0.45" fill="#4a5cc0" fill-opacity="0.35"/>
<circle cx="115.7" cy="322.4" r="0.45" fill="#6a80d8" fill-opacity="0.35"/>
<circle cx="117.6" cy="322.3" r="0.45" fill="#4a5cc0" fill-opacity="0.35"/>
<circle cx="122.6" cy="322.5" r="0.45" fill="#5a78d8" fill-opacity="0.35"/>
<circle cx="121.8" cy="321.2" r="0.45" fill="#6a80d8" fill-opacity="0.35"/>
<circle cx="124.2" cy="319.3" r="0.45" fill="#6a80d8" fill-opacity="0.35"/>
<circle cx="117.6" cy="325.5" r="0.45" fill="#4a68c8" fill-opacity="0.35"/>
<circle cx="116.6" cy="317.1" r="0.45" fill="#8a90e0" fill-opacity="0.35"/>
<circle cx="103.4" cy="323.4" r="0.45" fill="#8a90e0" fill-opacity="0.35"/>
<circle cx="116.4" cy="324.7" r="0.45" fill="#4a5cc0" fill-opacity="0.35"/>
<circle cx="127.8" cy="316.5" r="0.45" fill="#4a68c8" fill-opacity="0.35"/>
<circle cx="121.6" cy="321.9" r="0.45" fill="#4a5cc0" fill-opacity="0.35"/>
<circle cx="111.7" cy="324.6" r="0.45" fill="#4a68c8" fill-opacity="0.35"/>
<circle cx="120.1" cy="316.1" r="0.45" fill="#5a78d8" fill-opacity="0.35"/>
<circle cx="105.8" cy="322.6" r="0.45" fill="#6a80d8" fill-opacity="0.35"/>
<circle cx="118.9" cy="325.2" r="0.45" fill="#8a90e0" fill-opacity="0.35"/>
<circle cx="110.2" cy="320.0" r="0.45" fill="#5a78d8" fill-opacity="0.35"/>
<circle cx="116.2" cy="321.0" r="0.45" fill="#5a78d8" fill-opacity="0.35"/>
<circle cx="116.3" cy="320.7" r="0.45" fill="#4a68c8" fill-opacity="0.35"/>
<circle cx="119.3" cy="321.1" r="0.45" fill="#8a90e0" fill-opacity="0.35"/>
<circle cx="113.9" cy="321.4" r="0.45" fill="#5a78d8" fill-opacity="0.35"/>
<circle cx="105.4" cy="318.5" r="0.45" fill="#4a5cc0" fill-opacity="0.35"/>
<circle cx="100.9" cy="321.8" r="0.45" fill="#5a78d8" fill-opacity="0.35"/>
<circle cx="108.1" cy="324.7" r="0.45" fill="#4a5cc0" fill-opacity="0.35"/>
<circle cx="119.5" cy="319.6" r="0.45" fill="#4a68c8" fill-opacity="0.35"/>
<circle cx="98.9" cy="315.9" r="0.45" fill="#6a80d8" fill-opacity="0.35"/>
<circle cx="111.1" cy="323.1" r="0.45" fill="#8a90e0" fill-opacity="0.35"/>
<circle cx="111.8" cy="321.2" r="0.45" fill="#4a68c8" fill-opacity="0.35"/>
<circle cx="108.7" cy="324.8" r="0.45" fill="#8a90e0" fill-opacity="0.35"/>
<circle cx="107.4" cy="324.8" r="0.45" fill="#8a90e0" fill-opacity="0.35"/>
<circle cx="107.5" cy="325.7" r="0.45" fill="#5a78d8" fill-opacity="0.35"/>
<circle cx="117.0" cy="321.3" r="0.45" fill="#4a5cc0" fill-opacity="0.35"/>
<circle cx="120.1" cy="322.9" r="0.45" fill="#6a80d8" fill-opacity="0.35"/>
<circle cx="120.0" cy="320.2" r="0.45" fill="#5a78d8" fill-opacity="0.35"/>
<circle cx="121.1" cy="322.7" r="0.45" fill="#8a90e0" fill-opacity="0.35"/>
<circle cx="107.1" cy="316.6" r="0.45" fill="#5a78d8" fill-opacity="0.35"/>
<circle cx="106.1" cy="319.0" r="0.45" fill="#8a90e0" fill-opacity="0.35"/>
<circle cx="106.8" cy="338.2" r="0.45" fill="#8a90e0" fill-opacity="0.42"/>
<circle cx="104.5" cy="330.3" r="0.45" fill="#5a78d8" fill-opacity="0.42"/>
<circle cx="102.5" cy="334.8" r="0.45" fill="#8a90e0" fill-opacity="0.42"/>
<circle cx="101.1" cy="336.7" r="0.45" fill="#4a5cc0" fill-opacity="0.42"/>
<circle cx="113.6" cy="336.9" r="0.45" fill="#4a68c8" fill-opacity="0.42"/>
<circle cx="118.1" cy="343.2" r="0.45" fill="#4a68c8" fill-opacity="0.42"/>
<circle cx="112.1" cy="329.4" r="0.45" fill="#8a90e0" fill-opacity="0.42"/>
<circle cx="102.4" cy="331.9" r="0.45" fill="#8a90e0" fill-opacity="0.42"/>
<circle cx="106.4" cy="336.7" r="0.45" fill="#4a68c8" fill-opacity="0.42"/>
<circle cx="123.2" cy="330.1" r="0.45" fill="#4a5cc0" fill-opacity="0.42"/>
<circle cx="104.7" cy="329.8" r="0.45" fill="#4a68c8" fill-opacity="0.42"/>
<circle cx="104.1" cy="331.7" r="0.45" fill="#8a90e0" fill-opacity="0.42"/>
<circle cx="113.2" cy="323.9" r="0.45" fill="#4a5cc0" fill-opacity="0.42"/>
<circle cx="126.9" cy="335.8" r="0.45" fill="#4a5cc0" fill-opacity="0.42"/>
<circle cx="125.1" cy="334.7" r="0.45" fill="#4a5cc0" fill-opacity="0.42"/>
<circle cx="105.2" cy="332.0" r="0.45" fill="#4a68c8" fill-opacity="0.42"/>
<circle cx="132.4" cy="334.3" r="0.45" fill="#6a80d8" fill-opacity="0.42"/>
<circle cx="114.9" cy="336.1" r="0.45" fill="#5a78d8" fill-opacity="0.42"/>
<circle cx="99.6" cy="333.3" r="0.45" fill="#4a5cc0" fill-opacity="0.42"/>
<circle cx="123.7" cy="332.3" r="0.45" fill="#4a5cc0" fill-opacity="0.42"/>
<circle cx="104.8" cy="340.9" r="0.45" fill="#4a68c8" fill-opacity="0.42"/>
<circle cx="100.8" cy="336.9" r="0.45" fill="#4a68c8" fill-opacity="0.42"/>
<circle cx="108.8" cy="328.7" r="0.45" fill="#6a80d8" fill-opacity="0.42"/>
<circle cx="110.2" cy="330.0" r="0.45" fill="#8a90e0" fill-opacity="0.42"/>
<circle cx="119.6" cy="334.1" r="0.45" fill="#4a68c8" fill-opacity="0.42"/>
<circle cx="104.4" cy="339.9" r="0.45" fill="#5a78d8" fill-opacity="0.42"/>
<circle cx="103.3" cy="335.4" r="0.45" fill="#4a68c8" fill-opacity="0.42"/>
<circle cx="100.9" cy="336.0" r="0.45" fill="#8a90e0" fill-opacity="0.42"/>
<circle cx="117.2" cy="336.9" r="0.45" fill="#4a5cc0" fill-opacity="0.42"/>
<circle cx="95.3" cy="332.6" r="0.45" fill="#4a68c8" fill-opacity="0.42"/>
<circle cx="102.4" cy="334.0" r="0.45" fill="#4a5cc0" fill-opacity="0.42"/>
<circle cx="99.8" cy="336.9" r="0.45" fill="#4a68c8" fill-opacity="0.42"/>
<circle cx="125.1" cy="331.8" r="0.45" fill="#8a90e0" fill-opacity="0.42"/>
<circle cx="103.4" cy="340.5" r="0.45" fill="#4a68c8" fill-opacity="0.42"/>
<circle cx="117.9" cy="325.7" r="0.45" fill="#4a5cc0" fill-opacity="0.42"/>
<circle cx="102.1" cy="324.6" r="0.45" fill="#8a90e0" fill-opacity="0.42"/>
<circle cx="110.1" cy="334.6" r="0.45" fill="#5a78d8" fill-opacity="0.42"/>
<circle cx="113.0" cy="338.4" r="0.45" fill="#6a80d8" fill-opacity="0.42"/>
<circle cx="104.1" cy="334.9" r="0.45" fill="#4a5cc0" fill-opacity="0.42"/>
<circle cx="124.8" cy="333.8" r="0.45" fill="#4a5cc0" fill-opacity="0.42"/>
<circle cx="96.2" cy="332.9" r="0.45" fill="#5a78d8" fill-opacity="0.42"/>
<circle cx="107.1" cy="334.0" r="0.45" fill="#6a80d8" fill-opacity="0.42"/>
<circle cx="112.7" cy="337.5" r="0.45" fill="#5a78d8" fill-opacity="0.42"/>
<circle cx="114.6" cy="335.3" r="0.45" fill="#8a90e0" fill-opacity="0.42"/>
<circle cx="119.8" cy="332.5" r="0.45" fill="#5a78d8" fill-opacity="0.42"/>
<circle cx="99.4" cy="343.4" r="0.45" fill="#4a68c8" fill-opacity="0.42"/>
<circle cx="113.5" cy="336.3" r="0.45" fill="#4a5cc0" fill-opacity="0.42"/>
<circle cx="104.7" cy="341.2" r="0.45" fill="#4a68c8" fill-opacity="0.42"/>
<circle cx="110.2" cy="324.8" r="0.45" fill="#4a5cc0" fill-opacity="0.42"/>
<circle cx="125.0" cy="333.5" r="0.45" fill="#5a78d8" fill-opacity="0.42"/>
<circle cx="115.2" cy="338.2" r="0.45" fill="#4a68c8" fill-opacity="0.42"/>
<circle cx="115.8" cy="339.2" r="0.45" fill="#4a68c8" fill-opacity="0.42"/>
<circle cx="113.0" cy="337.0" r="0.45" fill="#6a80d8" fill-opacity="0.42"/>
<circle cx="100.7" cy="332.3" r="0.45" fill="#5a78d8" fill-opacity="0.42"/>
<circle cx="109.1" cy="332.1" r="0.45" fill="#6a80d8" fill-opacity="0.42"/>
<circle cx="104.1" cy="335.7" r="0.45" fill="#4a5cc0" fill-opacity="0.42"/>
<circle cx="108.3" cy="337.8" r="0.45" fill="#4a5cc0" fill-opacity="0.42"/>
<circle cx="99.2" cy="336.8" r="0.45" fill="#4a5cc0" fill-opacity="0.42"/>
<circle cx="107.0" cy="338.3" r="0.45" fill="#8a90e0" fill-opacity="0.42"/>
<circle cx="95.3" cy="331.2" r="0.45" fill="#5a78d8" fill-opacity="0.42"/>
<circle cx="104.4" cy="329.1" r="0.45" fill="#8a90e0" fill-opacity="0.42"/>
<circle cx="108.6" cy="330.1" r="0.45" fill="#4a5cc0" fill-opacity="0.42"/>
<circle cx="117.3" cy="332.2" r="0.45" fill="#4a5cc0" fill-opacity="0.42"/>
<circle cx="105.4" cy="339.1" r="0.45" fill="#4a68c8" fill-opacity="0.42"/>
<circle cx="111.6" cy="336.5" r="0.45" fill="#6a80d8" fill-opacity="0.42"/>
<circle cx="113.6" cy="332.0" r="0.45" fill="#4a68c8" fill-opacity="0.42"/>
<circle cx="125.5" cy="338.3" r="0.45" fill="#4a68c8" fill-opacity="0.42"/>
<circle cx="115.9" cy="334.0" r="0.45" fill="#4a68c8" fill-opacity="0.42"/>
<circle cx="100.7" cy="336.2" r="0.45" fill="#6a80d8" fill-opacity="0.42"/>
<circle cx="115.3" cy="341.8" r="0.45" fill="#6a80d8" fill-opacity="0.42"/>
<circle cx="112.1" cy="331.3" r="0.45" fill="#8a90e0" fill-opacity="0.42"/>
<circle cx="102.3" cy="330.1" r="0.45" fill="#4a5cc0" fill-opacity="0.42"/>
<circle cx="113.7" cy="338.9" r="0.45" fill="#8a90e0" fill-opacity="0.42"/>
<circle cx="101.2" cy="326.5" r="0.45" fill="#4a68c8" fill-opacity="0.42"/>
<circle cx="105.8" cy="331.0" r="0.45" fill="#5a78d8" fill-opacity="0.42"/>
<circle cx="106.2" cy="335.1" r="0.45" fill="#4a5cc0" fill-opacity="0.42"/>
<circle cx="109.8" cy="334.0" r="0.45" fill="#4a68c8" fill-opacity="0.42"/>
<circle cx="109.6" cy="335.4" r="0.45" fill="#6a80d8" fill-opacity="0.42"/>
<circle cx="100.2" cy="332.3" r="0.45" fill="#8a90e0" fill-opacity="0.42"/>
<circle cx="105.0" cy="335.3" r="0.45" fill="#4a5cc0" fill-opacity="0.42"/>
<circle cx="117.4" cy="338.1" r="0.45" fill="#4a68c8" fill-opacity="0.42"/>
<circle cx="112.6" cy="331.7" r="0.45" fill="#8a90e0" fill-opacity="0.42"/>
<circle cx="111.8" cy="330.5" r="0.45" fill="#6a80d8" fill-opacity="0.42"/>
<circle cx="117.1" cy="339.6" r="0.45" fill="#6a80d8" fill-opacity="0.42"/>
<circle cx="116.3" cy="331.9" r="0.45" fill="#4a68c8" fill-opacity="0.42"/>
<circle cx="97.0" cy="339.7" r="0.45" fill="#8a90e0" fill-opacity="0.42"/>
<circle cx="105.7" cy="328.2" r="0.45" fill="#6a80d8" fill-opacity="0.42"/>
<circle cx="109.8" cy="332.9" r="0.45" fill="#8a90e0" fill-opacity="0.42"/>
<circle cx="113.4" cy="337.9" r="0.45" fill="#5a78d8" fill-opacity="0.42"/>
<circle cx="121.5" cy="333.5" r="0.45" fill="#4a68c8" fill-opacity="0.42"/>
<circle cx="123.3" cy="339.4" r="0.45" fill="#5a78d8" fill-opacity="0.42"/>
<circle cx="109.7" cy="334.6" r="0.45" fill="#4a68c8" fill-opacity="0.42"/>
<circle cx="100.9" cy="335.1" r="0.45" fill="#5a78d8" fill-opacity="0.42"/>
<circle cx="106.1" cy="331.3" r="0.45" fill="#8a90e0" fill-opacity="0.42"/>
<circle cx="110.6" cy="335.6" r="0.45" fill="#4a5cc0" fill-opacity="0.42"/>
<circle cx="116.9" cy="337.7" r="0.45" fill="#6a80d8" fill-opacity="0.42"/>
<circle cx="104.4" cy="331.1" r="0.45" fill="#5a78d8" fill-opacity="0.42"/>
<circle cx="99.7" cy="326.6" r="0.45" fill="#5a78d8" fill-opacity="0.42"/>
<circle cx="112.5" cy="334.2" r="0.45" fill="#8a90e0" fill-opacity="0.42"/>
<circle cx="100.7" cy="334.5" r="0.45" fill="#4a68c8" fill-opacity="0.49"/>
<circle cx="94.4" cy="330.0" r="0.45" fill="#6a80d8" fill-opacity="0.49"/>
<circle cx="95.8" cy="334.7" r="0.45" fill="#4a5cc0" fill-opacity="0.49"/>
<circle cx="99.8" cy="335.7" r="0.45" fill="#4a5cc0" fill-opacity="0.49"/>
<circle cx="99.7" cy="334.1" r="0.45" fill="#4a5cc0" fill-opacity="0.49"/>
<circle cx="97.8" cy="338.3" r="0.45" fill="#8a90e0" fill-opacity="0.49"/>
<circle cx="102.5" cy="338.6" r="0.45" fill="#8a90e0" fill-opacity="0.49"/>
<circle cx="100.2" cy="338.8" r="0.45" fill="#4a5cc0" fill-opacity="0.49"/>
<circle cx="103.9" cy="341.0" r="0.45" fill="#4a68c8" fill-opacity="0.49"/>
<circle cx="107.5" cy="340.0" r="0.45" fill="#8a90e0" fill-opacity="0.49"/>
<circle cx="97.3" cy="337.2" r="0.45" fill="#4a5cc0" fill-opacity="0.49"/>
<circle cx="101.9" cy="337.7" r="0.45" fill="#5a78d8" fill-opacity="0.49"/>
<circle cx="93.6" cy="337.0" r="0.45" fill="#8a90e0" fill-opacity="0.49"/>
<circle cx="95.7" cy="333.1" r="0.45" fill="#6a80d8" fill-opacity="0.49"/>
<circle cx="102.7" cy="333.2" r="0.45" fill="#6a80d8" fill-opacity="0.49"/>
<circle cx="98.2" cy="329.6" r="0.45" fill="#6a80d8" fill-opacity="0.49"/>
<circle cx="102.2" cy="336.1" r="0.45" fill="#4a68c8" fill-opacity="0.49"/>
<circle cx="99.5" cy="335.2" r="0.45" fill="#4a5cc0" fill-opacity="0.49"/>
<circle cx="101.9" cy="336.0" r="0.45" fill="#4a68c8" fill-opacity="0.49"/>
<circle cx="96.0" cy="340.2" r="0.45" fill="#4a68c8" fill-opacity="0.49"/>
<circle cx="93.3" cy="333.6" r="0.45" fill="#4a5cc0" fill-opacity="0.49"/>
<circle cx="103.9" cy="337.0" r="0.45" fill="#4a68c8" fill-opacity="0.49"/>
<circle cx="101.6" cy="338.5" r="0.45" fill="#5a78d8" fill-opacity="0.49"/>
<circle cx="99.3" cy="341.5" r="0.45" fill="#8a90e0" fill-opacity="0.49"/>
<circle cx="95.9" cy="331.5" r="0.45" fill="#4a68c8" fill-opacity="0.49"/>
<circle cx="92.5" cy="333.2" r="0.45" fill="#4a68c8" fill-opacity="0.49"/>
<circle cx="101.2" cy="340.6" r="0.45" fill="#8a90e0" fill-opacity="0.49"/>
<circle cx="90.3" cy="334.9" r="0.45" fill="#8a90e0" fill-opacity="0.49"/>
<circle cx="100.7" cy="335.9" r="0.45" fill="#5a78d8" fill-opacity="0.49"/>
<circle cx="107.1" cy="339.4" r="0.45" fill="#4a5cc0" fill-opacity="0.49"/>
<circle cx="101.0" cy="339.7" r="0.45" fill="#4a68c8" fill-opacity="0.49"/>
<circle cx="104.7" cy="339.4" r="0.45" fill="#5a78d8" fill-opacity="0.49"/>
<circle cx="97.7" cy="341.0" r="0.45" fill="#4a5cc0" fill-opacity="0.49"/>
<circle cx="95.7" cy="333.8" r="0.45" fill="#6a80d8" fill-opacity="0.49"/>
<circle cx="100.4" cy="333.9" r="0.45" fill="#8a90e0" fill-opacity="0.49"/>
<circle cx="95.4" cy="334.3" r="0.45" fill="#4a68c8" fill-opacity="0.49"/>
<circle cx="107.6" cy="337.9" r="0.45" fill="#4a68c8" fill-opacity="0.49"/>
<circle cx="101.6" cy="335.0" r="0.45" fill="#5a78d8" fill-opacity="0.49"/>
<circle cx="99.4" cy="333.1" r="0.45" fill="#8a90e0" fill-opacity="0.49"/>
<circle cx="101.6" cy="332.8" r="0.45" fill="#8a90e0" fill-opacity="0.49"/>
<circle cx="101.5" cy="337.9" r="0.45" fill="#4a68c8" fill-opacity="0.49"/>
<circle cx="93.2" cy="333.6" r="0.45" fill="#8a90e0" fill-opacity="0.49"/>
<circle cx="100.5" cy="338.7" r="0.45" fill="#4a68c8" fill-opacity="0.49"/>
<circle cx="104.1" cy="339.7" r="0.45" fill="#8a90e0" fill-opacity="0.49"/>
<circle cx="97.9" cy="337.1" r="0.45" fill="#4a5cc0" fill-opacity="0.49"/>
<circle cx="104.6" cy="338.7" r="0.45" fill="#8a90e0" fill-opacity="0.49"/>
<circle cx="101.2" cy="329.5" r="0.45" fill="#4a68c8" fill-opacity="0.49"/>
<circle cx="100.9" cy="331.2" r="0.45" fill="#6a80d8" fill-opacity="0.64"/>
<circle cx="100.5" cy="333.0" r="0.45" fill="#6a80d8" fill-opacity="0.64"/>
<circle cx="100.5" cy="333.7" r="0.45" fill="#4a68c8" fill-opacity="0.64"/>
<circle cx="102.1" cy="333.8" r="0.45" fill="#6a80d8" fill-opacity="0.64"/>
<circle cx="100.4" cy="335.8" r="0.45" fill="#5a78d8" fill-opacity="0.64"/>
<circle cx="100.5" cy="335.6" r="0.45" fill="#4a5cc0" fill-opacity="0.64"/>
<circle cx="98.3" cy="335.9" r="0.45" fill="#4a68c8" fill-opacity="0.64"/>
<circle cx="103.1" cy="334.3" r="0.45" fill="#4a68c8" fill-opacity="0.64"/>
<circle cx="97.0" cy="334.2" r="0.45" fill="#4a68c8" fill-opacity="0.64"/>
<circle cx="101.0" cy="332.8" r="0.45" fill="#4a5cc0" fill-opacity="0.64"/>
<circle cx="102.1" cy="334.9" r="0.45" fill="#4a68c8" fill-opacity="0.64"/>
<circle cx="120.8" cy="329.9" r="0.45" fill="#5a78d8" fill-opacity="0.56"/>
<circle cx="121.1" cy="331.8" r="0.45" fill="#5a78d8" fill-opacity="0.56"/>
<circle cx="122.0" cy="331.2" r="0.45" fill="#4a5cc0" fill-opacity="0.56"/>
<circle cx="123.7" cy="331.9" r="0.45" fill="#6a80d8" fill-opacity="0.56"/>
<circle cx="123.8" cy="335.4" r="0.45" fill="#6a80d8" fill-opacity="0.56"/>
<circle cx="123.9" cy="331.5" r="0.45" fill="#5a78d8" fill-opacity="0.56"/>
<circle cx="124.2" cy="333.2" r="0.45" fill="#4a5cc0" fill-opacity="0.56"/>
<circle cx="123.6" cy="330.7" r="0.45" fill="#4a5cc0" fill-opacity="0.56"/>
<circle cx="110.1" cy="343.1" r="0.45" fill="#4a5cc0" fill-opacity="0.35"/>
<circle cx="110.3" cy="342.4" r="0.45" fill="#4a68c8" fill-opacity="0.35"/>
<circle cx="116.5" cy="343.1" r="0.45" fill="#8a90e0" fill-opacity="0.35"/>
<circle cx="112.4" cy="343.1" r="0.45" fill="#8a90e0" fill-opacity="0.35"/>
<circle cx="112.4" cy="342.2" r="0.45" fill="#5a78d8" fill-opacity="0.35"/>
<circle cx="105.2" cy="342.1" r="0.45" fill="#4a5cc0" fill-opacity="0.35"/>
<circle cx="112.9" cy="343.5" r="0.45" fill="#5a78d8" fill-opacity="0.35"/>
<circle cx="93.6" cy="342.3" r="0.45" fill="#6a80d8" fill-opacity="0.35"/>
<circle cx="104.3" cy="344.4" r="0.45" fill="#5a78d8" fill-opacity="0.35"/>
<circle cx="132.8" cy="342.2" r="0.45" fill="#4a68c8" fill-opacity="0.35"/>
<circle cx="115.1" cy="343.0" r="0.45" fill="#4a68c8" fill-opacity="0.35"/>
<circle cx="116.4" cy="339.5" r="0.45" fill="#4a68c8" fill-opacity="0.35"/>
<circle cx="100.3" cy="340.9" r="0.45" fill="#6a80d8" fill-opacity="0.35"/>
<circle cx="114.3" cy="342.2" r="0.45" fill="#5a78d8" fill-opacity="0.35"/>
<circle cx="119.9" cy="340.8" r="0.45" fill="#4a5cc0" fill-opacity="0.35"/>
<circle cx="126.6" cy="341.8" r="0.45" fill="#8a90e0" fill-opacity="0.35"/>
<circle cx="107.0" cy="341.2" r="0.45" fill="#8a90e0" fill-opacity="0.35"/>
<circle cx="110.6" cy="343.0" r="0.45" fill="#4a5cc0" fill-opacity="0.35"/>
<circle cx="105.8" cy="341.9" r="0.45" fill="#4a68c8" fill-opacity="0.35"/>
<circle cx="102.5" cy="343.9" r="0.45" fill="#4a5cc0" fill-opacity="0.35"/>
<circle cx="105.6" cy="343.0" r="0.45" fill="#8a90e0" fill-opacity="0.35"/>
<circle cx="102.6" cy="342.7" r="0.45" fill="#4a5cc0" fill-opacity="0.35"/>
<circle cx="117.9" cy="343.0" r="0.45" fill="#8a90e0" fill-opacity="0.35"/>
<circle cx="127.1" cy="339.8" r="0.45" fill="#8a90e0" fill-opacity="0.35"/>
<circle cx="107.1" cy="342.2" r="0.45" fill="#4a5cc0" fill-opacity="0.35"/>
<circle cx="96.4" cy="342.9" r="0.45" fill="#8a90e0" fill-opacity="0.35"/>
<circle cx="108.0" cy="341.1" r="0.45" fill="#5a78d8" fill-opacity="0.35"/>
<rect x="89.40" y="302.80" width="45.90" height="42.40" fill="none" stroke="#c9c6d2" stroke-width="1"/>
<rect x="106.50" y="305.00" width="25.50" height="21.20" fill="none" stroke="#cbbfd6" stroke-width="1"/>
<text x="117.20" y="316.70" font-size="5.9" text-anchor="start" textLength="8.40" lengthAdjust="spacingAndGlyphs" fill="#333" stroke="#333" stroke-width="0.12">3.3</text>
<text x="83.30" y="347.00" font-size="4.6" text-anchor="middle" fill="#6a6a6a">10<tspan font-size="3.59" dy="-1.93">0</tspan></text>
<text x="90.00" y="351.20" font-size="4.6" text-anchor="middle" fill="#6a6a6a">10<tspan font-size="3.59" dy="-1.93">0</tspan></text>
<text x="83.30" y="336.40" font-size="4.6" text-anchor="middle" fill="#6a6a6a">10<tspan font-size="3.59" dy="-1.93">1</tspan></text>
<text x="101.33" y="351.20" font-size="4.6" text-anchor="middle" fill="#6a6a6a">10<tspan font-size="3.59" dy="-1.93">1</tspan></text>
<text x="83.30" y="325.80" font-size="4.6" text-anchor="middle" fill="#6a6a6a">10<tspan font-size="3.59" dy="-1.93">2</tspan></text>
<text x="112.65" y="351.20" font-size="4.6" text-anchor="middle" fill="#6a6a6a">10<tspan font-size="3.59" dy="-1.93">2</tspan></text>
<text x="83.30" y="315.20" font-size="4.6" text-anchor="middle" fill="#6a6a6a">10<tspan font-size="3.59" dy="-1.93">3</tspan></text>
<text x="123.97" y="351.20" font-size="4.6" text-anchor="middle" fill="#6a6a6a">10<tspan font-size="3.59" dy="-1.93">3</tspan></text>
<text x="83.30" y="304.60" font-size="4.6" text-anchor="middle" fill="#6a6a6a">10<tspan font-size="3.59" dy="-1.93">4</tspan></text>
<text x="135.30" y="351.20" font-size="4.6" text-anchor="middle" fill="#6a6a6a">10<tspan font-size="3.59" dy="-1.93">4</tspan></text>
<line x1="11.10" y1="239.00" x2="11.10" y2="318.80" stroke="#111" stroke-width="1.3"/>
<path d="M8.6,240.4 L11.1,234.1 L13.6,240.4 Z" fill="#111"/>
<text transform="translate(14.00,328.80) rotate(-90)" font-size="9.6" text-anchor="middle" textLength="14.00" lengthAdjust="spacingAndGlyphs" fill="#111" stroke="#111" stroke-width="0.35">c-Kit</text>
<text x="33.40" y="365.30" font-size="9.6" text-anchor="start" textLength="16.20" lengthAdjust="spacingAndGlyphs" fill="#111" stroke="#111" stroke-width="0.3">Sca-1</text>
<line x1="53.30" y1="362.40" x2="131.00" y2="362.40" stroke="#111" stroke-width="1.3"/>
<path d="M130.5,359.9 L136.2,362.4 L130.5,364.9 Z" fill="#111"/>
<text x="33.70" y="375.50" font-size="7.4" text-anchor="start" textLength="31.10" lengthAdjust="spacingAndGlyphs" fill="#333" stroke="#333" stroke-width="0.18">5-FU+ctrl</text>
<text x="33.70" y="384.40" font-size="7.4" text-anchor="start" textLength="25.20" lengthAdjust="spacingAndGlyphs" fill="#333" stroke="#333" stroke-width="0.18">chimera</text>
<text x="94.70" y="375.50" font-size="7.4" text-anchor="start" textLength="15.70" lengthAdjust="spacingAndGlyphs" fill="#333" stroke="#333" stroke-width="0.18">5-FU</text>
<text x="94.70" y="384.40" font-size="7.4" text-anchor="start" textLength="31.90" lengthAdjust="spacingAndGlyphs" fill="#333" stroke="#333" stroke-width="0.18">+miR-26a</text>
<text x="94.70" y="393.30" font-size="7.4" text-anchor="start" textLength="25.00" lengthAdjust="spacingAndGlyphs" fill="#333" stroke="#333" stroke-width="0.18">chimera</text>
<text x="326.30" y="221.10" font-size="9.7" text-anchor="start" font-weight="bold" textLength="18.90" lengthAdjust="spacingAndGlyphs" fill="#000" stroke="#000" stroke-width="0.3">LSK</text>
<text x="300.00" y="232.70" font-size="7.4" text-anchor="start" textLength="10.30" lengthAdjust="spacingAndGlyphs" fill="#333" stroke="#333" stroke-width="0.18">ctrl</text>
<text x="352.40" y="233.20" font-size="7.4" text-anchor="start" textLength="29.20" lengthAdjust="spacingAndGlyphs" fill="#333" stroke="#333" stroke-width="0.18">5-FU only</text>
<text transform="translate(268.20,260.20) rotate(-90)" font-size="9.6" text-anchor="middle" font-weight="bold" textLength="20.60" lengthAdjust="spacingAndGlyphs" fill="#222" stroke="#222" stroke-width="0.3">% Max</text>
<text transform="translate(271.20,332.50) rotate(-90)" font-size="9.6" text-anchor="middle" font-weight="bold" textLength="18.10" lengthAdjust="spacingAndGlyphs" fill="#222" stroke="#222" stroke-width="0.3">% Max</text>
<rect x="281.30" y="236.10" width="47.80" height="44.50" fill="none" stroke="#9a9a9a" stroke-width="1"/>
<text x="279.30" y="284.60" font-size="6.2" text-anchor="end" fill="#333" stroke="#333" stroke-width="0.18">0</text>
<text x="279.30" y="269.77" font-size="6.2" text-anchor="end" fill="#333" stroke="#333" stroke-width="0.18">10</text>
<text x="279.30" y="254.93" font-size="6.2" text-anchor="end" fill="#333" stroke="#333" stroke-width="0.18">20</text>
<text x="279.30" y="240.10" font-size="6.2" text-anchor="end" fill="#333" stroke="#333" stroke-width="0.18">30</text>
<text x="282.80" y="287.40" font-size="6.0" text-anchor="middle" fill="#333">10<tspan font-size="4.32" dy="-2.52">0</tspan></text>
<text x="294.38" y="287.40" font-size="6.0" text-anchor="middle" fill="#333">10<tspan font-size="4.32" dy="-2.52">1</tspan></text>
<text x="305.95" y="287.40" font-size="6.0" text-anchor="middle" fill="#333">10<tspan font-size="4.32" dy="-2.52">2</tspan></text>
<text x="317.53" y="287.40" font-size="6.0" text-anchor="middle" fill="#333">10<tspan font-size="4.32" dy="-2.52">3</tspan></text>
<text x="329.10" y="287.40" font-size="6.0" text-anchor="middle" fill="#333">10<tspan font-size="4.32" dy="-2.52">4</tspan></text>
<line x1="300.50" y1="276.20" x2="328.60" y2="276.20" stroke="#555" stroke-width="0.9"/>
<line x1="300.50" y1="274.70" x2="300.50" y2="277.70" stroke="#555" stroke-width="0.8"/>
<path d="M281.8,279.5 L281.8,250.0 L282.6,246.0 L283.2,252.0 L284.2,244.0 L285.0,248.0 L285.8,240.5 L286.6,246.0 L287.4,243.0 L288.2,238.3 L289.0,247.0 L289.8,249.0 L290.6,254.0 L291.6,255.0 L292.6,261.0 L293.6,264.0 L294.6,268.0 L295.6,271.0 L296.6,274.0 L297.6,276.5 L299.0,278.0 L301.0,279.0 L301.0,279.5 Z" fill="#c4c4c4" fill-opacity="0.25" stroke="#aaa" stroke-width="0.5"/>
<path d="M282.0,266.5 L282.6,260.5 L283.5,257.5 L284.3,254.5 L285.2,252.0 L286.0,249.5 L286.9,247.0 L287.6,245.5 L288.4,248.0 L289.1,251.5 L289.8,254.5 L290.5,257.0 L291.3,259.0 L292.0,261.2 L292.7,263.5 L293.3,265.7 L294.0,267.5 L294.8,270.2 L295.4,272.0 L296.0,273.8 L296.6,275.5 L297.2,277.0 L297.9,278.3 L298.7,279.2 L300.0,279.8 L301.5,280.1" fill="none" stroke="#3a3a3a" stroke-width="3.0" stroke-opacity="0.32" stroke-linejoin="round"/>
<path d="M282.1,264.6 L282.7,259.9 L283.3,254.4 L284.3,253.2 L285.1,249.5 L286.1,246.9 L286.7,246.3 L287.7,243.8 L288.4,246.9 L289.0,249.3 L289.6,253.3 L290.4,253.9 L291.2,258.3 L292.0,260.1 L292.7,261.9 L293.4,263.7 L294.2,265.9 L294.9,266.6 L295.2,270.0 L296.1,272.4 L296.6,275.1 L297.3,276.4 L297.9,279.0 L298.5,279.8 L300.1,280.4 L301.7,278.2" fill="none" stroke="#444" stroke-width="0.85" stroke-opacity="0.6"/>
<path d="M281.9,262.9 L282.7,259.4 L283.5,256.3 L284.3,252.9 L285.0,248.0 L285.8,251.0 L287.1,247.1 L287.4,242.9 L288.4,246.3 L289.0,249.5 L289.6,254.6 L290.7,253.1 L291.4,257.1 L292.0,259.5 L292.8,262.0 L293.1,263.9 L293.8,266.6 L294.8,268.4 L295.4,271.0 L295.9,271.8 L296.7,274.7 L297.0,275.9 L298.1,277.0 L298.7,279.2 L300.2,277.9 L301.5,276.9" fill="none" stroke="#555" stroke-width="0.85" stroke-opacity="0.6"/>
<path d="M282.0,266.1 L282.6,258.0 L283.5,255.4 L284.1,255.6 L285.2,252.6 L285.8,248.5 L287.0,246.2 L287.4,244.6 L288.4,248.0 L289.0,251.2 L290.0,250.7 L290.5,255.0 L291.5,256.0 L291.9,257.7 L292.9,263.4 L293.2,265.0 L293.9,265.8 L294.9,269.9 L295.5,272.7 L296.1,272.1 L296.6,270.7 L297.1,274.8 L298.1,278.6 L298.8,275.9 L300.2,278.2 L301.4,279.2" fill="none" stroke="#222" stroke-width="0.85" stroke-opacity="0.6"/>
<path d="M281.9,265.8 L282.6,257.4 L283.5,253.5 L284.5,252.6 L285.0,250.3 L286.1,247.4 L287.0,244.4 L287.7,245.6 L288.4,244.6 L289.0,251.9 L289.7,251.7 L290.3,253.8 L291.3,258.3 L292.1,258.4 L292.7,262.6 L293.1,263.0 L294.0,268.0 L294.9,270.8 L295.3,269.7 L296.2,271.7 L296.5,274.4 L297.0,275.1 L298.1,276.6 L298.5,276.2 L300.1,278.8 L301.6,280.2" fill="none" stroke="#555" stroke-width="0.85" stroke-opacity="0.6"/>
<line x1="289.27" y1="279.50" x2="289.27" y2="261.69" stroke="#444" stroke-width="0.5" stroke-opacity="0.45"/>
<line x1="288.76" y1="279.50" x2="288.76" y2="254.03" stroke="#444" stroke-width="0.5" stroke-opacity="0.45"/>
<line x1="294.15" y1="279.50" x2="294.15" y2="270.23" stroke="#666" stroke-width="0.5" stroke-opacity="0.45"/>
<line x1="285.28" y1="279.50" x2="285.28" y2="258.59" stroke="#555" stroke-width="0.5" stroke-opacity="0.45"/>
<line x1="291.97" y1="279.50" x2="291.97" y2="265.68" stroke="#999" stroke-width="0.5" stroke-opacity="0.45"/>
<line x1="284.97" y1="279.50" x2="284.97" y2="261.28" stroke="#888" stroke-width="0.5" stroke-opacity="0.45"/>
<line x1="285.94" y1="279.50" x2="285.94" y2="253.24" stroke="#888" stroke-width="0.5" stroke-opacity="0.45"/>
<line x1="287.34" y1="279.50" x2="287.34" y2="259.79" stroke="#555" stroke-width="0.5" stroke-opacity="0.45"/>
<line x1="290.17" y1="279.50" x2="290.17" y2="259.71" stroke="#555" stroke-width="0.5" stroke-opacity="0.45"/>
<line x1="289.64" y1="279.50" x2="289.64" y2="254.38" stroke="#666" stroke-width="0.5" stroke-opacity="0.45"/>
<line x1="289.44" y1="279.50" x2="289.44" y2="254.01" stroke="#555" stroke-width="0.5" stroke-opacity="0.45"/>
<line x1="286.48" y1="279.50" x2="286.48" y2="248.07" stroke="#555" stroke-width="0.5" stroke-opacity="0.45"/>
<line x1="291.03" y1="279.50" x2="291.03" y2="262.11" stroke="#444" stroke-width="0.5" stroke-opacity="0.45"/>
<line x1="291.56" y1="279.50" x2="291.56" y2="260.26" stroke="#666" stroke-width="0.5" stroke-opacity="0.45"/>
<line x1="292.65" y1="279.50" x2="292.65" y2="262.38" stroke="#444" stroke-width="0.5" stroke-opacity="0.45"/>
<line x1="287.51" y1="279.50" x2="287.51" y2="252.59" stroke="#999" stroke-width="0.5" stroke-opacity="0.45"/>
<line x1="281.90" y1="279.50" x2="281.90" y2="252.00" stroke="#555" stroke-width="1.0" stroke-opacity="0.8"/>
<line x1="282.00" y1="279.60" x2="328.50" y2="279.60" stroke="#444" stroke-width="0.9"/>
<text x="314" y="275.2" font-size="3" fill="#888">28</text>
<rect x="344.00" y="236.60" width="47.20" height="43.40" fill="none" stroke="#9a9a9a" stroke-width="1"/>
<text x="341.00" y="284.00" font-size="6.2" text-anchor="end" fill="#333" stroke="#333" stroke-width="0.18">0</text>
<text x="341.00" y="269.53" font-size="6.2" text-anchor="end" fill="#333" stroke="#333" stroke-width="0.18">1</text>
<text x="341.00" y="255.07" font-size="6.2" text-anchor="end" fill="#333" stroke="#333" stroke-width="0.18">2</text>
<text x="341.00" y="240.60" font-size="6.2" text-anchor="end" fill="#333" stroke="#333" stroke-width="0.18">3</text>
<text x="345.50" y="288.00" font-size="6.0" text-anchor="middle" fill="#333">10<tspan font-size="4.32" dy="-2.52">0</tspan></text>
<text x="356.93" y="288.00" font-size="6.0" text-anchor="middle" fill="#333">10<tspan font-size="4.32" dy="-2.52">1</tspan></text>
<text x="368.35" y="288.00" font-size="6.0" text-anchor="middle" fill="#333">10<tspan font-size="4.32" dy="-2.52">2</tspan></text>
<text x="379.77" y="288.00" font-size="6.0" text-anchor="middle" fill="#333">10<tspan font-size="4.32" dy="-2.52">3</tspan></text>
<text x="391.20" y="288.00" font-size="6.0" text-anchor="middle" fill="#333">10<tspan font-size="4.32" dy="-2.52">4</tspan></text>
<line x1="377.00" y1="274.30" x2="391.00" y2="274.30" stroke="#555" stroke-width="0.9"/>
<line x1="377.00" y1="272.80" x2="377.00" y2="275.80" stroke="#555" stroke-width="0.8"/>
<line x1="377.00" y1="273.20" x2="391.00" y2="273.20" stroke="#666" stroke-width="0.7"/>
<rect x="344.10" y="265.13" width="1.80" height="14.47" fill="#999" fill-opacity="0.3"/>
<path d="M344.10,279.60 V265.13 H345.90 V279.60" fill="none" stroke="#444" stroke-width="0.5" stroke-opacity="0.36"/>
<rect x="349.20" y="265.13" width="3.40" height="14.47" fill="#999" fill-opacity="0.3"/>
<path d="M349.20,279.60 V265.13 H352.60 V279.60" fill="none" stroke="#444" stroke-width="0.5" stroke-opacity="0.36"/>
<rect x="354.30" y="265.13" width="3.40" height="14.47" fill="#888" fill-opacity="0.3"/>
<path d="M354.30,279.60 V265.13 H357.70 V279.60" fill="none" stroke="#444" stroke-width="0.5" stroke-opacity="0.36"/>
<rect x="358.20" y="250.67" width="0.70" height="28.93" fill="#aaa" fill-opacity="0.3"/>
<path d="M358.20,279.60 V250.67 H358.90 V279.60" fill="none" stroke="#444" stroke-width="0.5" stroke-opacity="0.36"/>
<rect x="360.00" y="265.13" width="8.00" height="14.47" fill="#777" fill-opacity="0.35"/>
<path d="M360.00,279.60 V265.13 H368.00 V279.60" fill="none" stroke="#444" stroke-width="0.5" stroke-opacity="0.36"/>
<rect x="368.00" y="265.13" width="10.60" height="14.47" fill="#888" fill-opacity="0.3"/>
<path d="M368.00,279.60 V265.13 H378.60 V279.60" fill="none" stroke="#444" stroke-width="0.5" stroke-opacity="0.36"/>
<rect x="362.30" y="250.67" width="2.70" height="28.93" fill="#777" fill-opacity="0.3"/>
<path d="M362.30,279.60 V250.67 H365.00 V279.60" fill="none" stroke="#444" stroke-width="0.5" stroke-opacity="0.36"/>
<rect x="367.30" y="250.67" width="2.80" height="28.93" fill="#888" fill-opacity="0.3"/>
<path d="M367.30,279.60 V250.67 H370.10 V279.60" fill="none" stroke="#444" stroke-width="0.5" stroke-opacity="0.36"/>
<rect x="373.50" y="250.67" width="2.30" height="28.93" fill="#999" fill-opacity="0.3"/>
<path d="M373.50,279.60 V250.67 H375.80 V279.60" fill="none" stroke="#444" stroke-width="0.5" stroke-opacity="0.36"/>
<rect x="382.00" y="265.13" width="1.70" height="14.47" fill="#bbb" fill-opacity="0.3"/>
<path d="M382.00,279.60 V265.13 H383.70 V279.60" fill="none" stroke="#444" stroke-width="0.5" stroke-opacity="0.36"/>
<rect x="378.60" y="272.37" width="2.40" height="7.23" fill="#999" fill-opacity="0.3"/>
<path d="M378.60,279.60 V272.37 H381.00 V279.60" fill="none" stroke="#444" stroke-width="0.5" stroke-opacity="0.36"/>
<rect x="366.20" y="237.00" width="2.80" height="42.60" fill="#bbb" fill-opacity="0.45"/>
<path d="M366.20,279.60 V237.00 H369.00 V279.60" fill="none" stroke="#999" stroke-width="0.4" stroke-opacity="0.30"/>
<line x1="359.90" y1="279.60" x2="359.90" y2="237.00" stroke="#444" stroke-width="0.9" stroke-opacity="0.85"/>
<line x1="350.20" y1="279.60" x2="350.20" y2="265.13" stroke="#222" stroke-width="0.55" stroke-opacity="0.75"/>
<line x1="344.79" y1="279.60" x2="344.79" y2="265.13" stroke="#666" stroke-width="0.55" stroke-opacity="0.75"/>
<line x1="376.02" y1="279.60" x2="376.02" y2="265.13" stroke="#222" stroke-width="0.55" stroke-opacity="0.75"/>
<line x1="365.47" y1="279.60" x2="365.47" y2="265.13" stroke="#666" stroke-width="0.55" stroke-opacity="0.75"/>
<line x1="375.19" y1="279.60" x2="375.19" y2="265.13" stroke="#222" stroke-width="0.55" stroke-opacity="0.75"/>
<line x1="354.47" y1="279.60" x2="354.47" y2="265.13" stroke="#222" stroke-width="0.55" stroke-opacity="0.75"/>
<line x1="377.16" y1="279.60" x2="377.16" y2="265.13" stroke="#666" stroke-width="0.55" stroke-opacity="0.75"/>
<line x1="376.02" y1="279.60" x2="376.02" y2="265.13" stroke="#444" stroke-width="0.55" stroke-opacity="0.75"/>
<line x1="350.59" y1="279.60" x2="350.59" y2="265.13" stroke="#666" stroke-width="0.55" stroke-opacity="0.75"/>
<line x1="369.08" y1="279.60" x2="369.08" y2="250.67" stroke="#666" stroke-width="0.55" stroke-opacity="0.75"/>
<line x1="368.23" y1="279.60" x2="368.23" y2="265.13" stroke="#888" stroke-width="0.55" stroke-opacity="0.75"/>
<line x1="364.24" y1="279.60" x2="364.24" y2="250.67" stroke="#444" stroke-width="0.55" stroke-opacity="0.75"/>
<line x1="355.20" y1="279.60" x2="355.20" y2="265.13" stroke="#666" stroke-width="0.55" stroke-opacity="0.75"/>
<line x1="344.29" y1="279.60" x2="344.29" y2="265.13" stroke="#666" stroke-width="0.55" stroke-opacity="0.75"/>
<line x1="366.89" y1="279.60" x2="366.89" y2="265.13" stroke="#666" stroke-width="0.55" stroke-opacity="0.75"/>
<line x1="377.92" y1="279.60" x2="377.92" y2="265.13" stroke="#444" stroke-width="0.55" stroke-opacity="0.75"/>
<line x1="360.56" y1="279.60" x2="360.56" y2="265.13" stroke="#666" stroke-width="0.55" stroke-opacity="0.75"/>
<line x1="361.24" y1="279.60" x2="361.24" y2="265.13" stroke="#444" stroke-width="0.55" stroke-opacity="0.75"/>
<line x1="354.39" y1="279.60" x2="354.39" y2="265.13" stroke="#222" stroke-width="0.55" stroke-opacity="0.75"/>
<line x1="362.51" y1="279.60" x2="362.51" y2="250.67" stroke="#666" stroke-width="0.55" stroke-opacity="0.75"/>
<line x1="364.75" y1="279.60" x2="364.75" y2="265.13" stroke="#888" stroke-width="0.55" stroke-opacity="0.75"/>
<line x1="372.04" y1="279.60" x2="372.04" y2="265.13" stroke="#444" stroke-width="0.55" stroke-opacity="0.75"/>
<line x1="351.82" y1="279.60" x2="351.82" y2="265.13" stroke="#888" stroke-width="0.55" stroke-opacity="0.75"/>
<line x1="369.40" y1="279.60" x2="369.40" y2="265.13" stroke="#888" stroke-width="0.55" stroke-opacity="0.75"/>
<line x1="355.05" y1="279.60" x2="355.05" y2="265.13" stroke="#666" stroke-width="0.55" stroke-opacity="0.75"/>
<line x1="361.44" y1="279.60" x2="361.44" y2="265.13" stroke="#666" stroke-width="0.55" stroke-opacity="0.75"/>
<line x1="369.38" y1="279.60" x2="369.38" y2="265.13" stroke="#444" stroke-width="0.55" stroke-opacity="0.75"/>
<line x1="374.61" y1="279.60" x2="374.61" y2="265.13" stroke="#444" stroke-width="0.55" stroke-opacity="0.75"/>
<line x1="355.64" y1="279.60" x2="355.64" y2="265.13" stroke="#222" stroke-width="0.55" stroke-opacity="0.75"/>
<line x1="345.71" y1="279.60" x2="345.71" y2="265.13" stroke="#222" stroke-width="0.55" stroke-opacity="0.75"/>
<line x1="382.19" y1="279.60" x2="382.19" y2="265.13" stroke="#666" stroke-width="0.55" stroke-opacity="0.75"/>
<line x1="344.73" y1="279.60" x2="344.73" y2="265.13" stroke="#666" stroke-width="0.55" stroke-opacity="0.75"/>
<line x1="356.87" y1="279.60" x2="356.87" y2="265.13" stroke="#444" stroke-width="0.55" stroke-opacity="0.75"/>
<line x1="375.01" y1="279.60" x2="375.01" y2="250.67" stroke="#888" stroke-width="0.55" stroke-opacity="0.75"/>
<line x1="378.45" y1="279.60" x2="378.45" y2="265.13" stroke="#222" stroke-width="0.55" stroke-opacity="0.75"/>
<line x1="355.74" y1="279.60" x2="355.74" y2="265.13" stroke="#444" stroke-width="0.55" stroke-opacity="0.75"/>
<line x1="355.68" y1="279.60" x2="355.68" y2="265.13" stroke="#666" stroke-width="0.55" stroke-opacity="0.75"/>
<line x1="345.00" y1="279.40" x2="391.00" y2="279.40" stroke="#444" stroke-width="0.8"/>
<rect x="281.50" y="305.00" width="47.30" height="43.60" fill="none" stroke="#9a9a9a" stroke-width="1"/>
<text x="279.30" y="352.60" font-size="6.2" text-anchor="end" fill="#333" stroke="#333" stroke-width="0.18">0</text>
<text x="279.30" y="338.07" font-size="6.2" text-anchor="end" fill="#333" stroke="#333" stroke-width="0.18">1</text>
<text x="279.30" y="323.53" font-size="6.2" text-anchor="end" fill="#333" stroke="#333" stroke-width="0.18">2</text>
<text x="279.30" y="309.00" font-size="6.2" text-anchor="end" fill="#333" stroke="#333" stroke-width="0.18">3</text>
<text x="283.00" y="356.20" font-size="6.0" text-anchor="middle" fill="#333">10<tspan font-size="4.32" dy="-2.52">0</tspan></text>
<text x="294.45" y="356.20" font-size="6.0" text-anchor="middle" fill="#333">10<tspan font-size="4.32" dy="-2.52">1</tspan></text>
<text x="305.90" y="356.20" font-size="6.0" text-anchor="middle" fill="#333">10<tspan font-size="4.32" dy="-2.52">2</tspan></text>
<text x="317.35" y="356.20" font-size="6.0" text-anchor="middle" fill="#333">10<tspan font-size="4.32" dy="-2.52">3</tspan></text>
<text x="328.80" y="356.20" font-size="6.0" text-anchor="middle" fill="#333">10<tspan font-size="4.32" dy="-2.52">4</tspan></text>
<line x1="301.80" y1="344.30" x2="328.30" y2="344.30" stroke="#555" stroke-width="0.9"/>
<line x1="301.80" y1="342.80" x2="301.80" y2="345.80" stroke="#555" stroke-width="0.8"/>
<rect x="281.90" y="333.57" width="5.70" height="14.53" fill="#c4c4c4" fill-opacity="0.6"/>
<path d="M281.90,348.10 V333.57 H287.60 V348.10" fill="none" stroke="#999" stroke-width="0.4" stroke-opacity="0.36"/>
<rect x="288.00" y="333.57" width="25.00" height="14.53" fill="#666" fill-opacity="0.4"/>
<path d="M288.00,348.10 V333.57 H313.00 V348.10" fill="none" stroke="#444" stroke-width="0.5" stroke-opacity="0.42"/>
<rect x="288.80" y="319.03" width="10.00" height="14.53" fill="#aaa" fill-opacity="0.18"/>
<rect x="301.80" y="319.03" width="8.20" height="14.53" fill="#aaa" fill-opacity="0.18"/>
<line x1="294.40" y1="348.10" x2="294.40" y2="305.30" stroke="#555" stroke-width="0.8" stroke-opacity="0.8"/>
<line x1="300.50" y1="348.10" x2="300.50" y2="305.30" stroke="#555" stroke-width="0.8" stroke-opacity="0.8"/>
<line x1="301.20" y1="348.10" x2="301.20" y2="305.30" stroke="#555" stroke-width="0.8" stroke-opacity="0.8"/>
<line x1="304.10" y1="348.10" x2="304.10" y2="305.30" stroke="#555" stroke-width="0.8" stroke-opacity="0.8"/>
<line x1="299.58" y1="348.10" x2="299.58" y2="333.57" stroke="#666" stroke-width="0.55" stroke-opacity="0.75"/>
<line x1="294.68" y1="348.10" x2="294.68" y2="319.03" stroke="#444" stroke-width="0.55" stroke-opacity="0.75"/>
<line x1="309.66" y1="348.10" x2="309.66" y2="319.03" stroke="#222" stroke-width="0.55" stroke-opacity="0.75"/>
<line x1="296.46" y1="348.10" x2="296.46" y2="319.03" stroke="#888" stroke-width="0.55" stroke-opacity="0.75"/>
<line x1="310.46" y1="348.10" x2="310.46" y2="333.57" stroke="#222" stroke-width="0.55" stroke-opacity="0.75"/>
<line x1="296.35" y1="348.10" x2="296.35" y2="319.03" stroke="#222" stroke-width="0.55" stroke-opacity="0.75"/>
<line x1="306.20" y1="348.10" x2="306.20" y2="319.03" stroke="#444" stroke-width="0.55" stroke-opacity="0.75"/>
<line x1="305.59" y1="348.10" x2="305.59" y2="333.57" stroke="#888" stroke-width="0.55" stroke-opacity="0.75"/>
<line x1="311.78" y1="348.10" x2="311.78" y2="333.57" stroke="#888" stroke-width="0.55" stroke-opacity="0.75"/>
<line x1="291.93" y1="348.10" x2="291.93" y2="319.03" stroke="#444" stroke-width="0.55" stroke-opacity="0.75"/>
<line x1="289.28" y1="348.10" x2="289.28" y2="319.03" stroke="#444" stroke-width="0.55" stroke-opacity="0.75"/>
<line x1="300.66" y1="348.10" x2="300.66" y2="333.57" stroke="#222" stroke-width="0.55" stroke-opacity="0.75"/>
<line x1="307.36" y1="348.10" x2="307.36" y2="333.57" stroke="#888" stroke-width="0.55" stroke-opacity="0.75"/>
<line x1="307.74" y1="348.10" x2="307.74" y2="319.03" stroke="#222" stroke-width="0.55" stroke-opacity="0.75"/>
<line x1="310.97" y1="348.10" x2="310.97" y2="333.57" stroke="#444" stroke-width="0.55" stroke-opacity="0.75"/>
<line x1="304.86" y1="348.10" x2="304.86" y2="333.57" stroke="#888" stroke-width="0.55" stroke-opacity="0.75"/>
<line x1="310.24" y1="348.10" x2="310.24" y2="333.57" stroke="#666" stroke-width="0.55" stroke-opacity="0.75"/>
<line x1="310.78" y1="348.10" x2="310.78" y2="333.57" stroke="#888" stroke-width="0.55" stroke-opacity="0.75"/>
<line x1="295.03" y1="348.10" x2="295.03" y2="319.03" stroke="#222" stroke-width="0.55" stroke-opacity="0.75"/>
<line x1="292.99" y1="348.10" x2="292.99" y2="319.03" stroke="#222" stroke-width="0.55" stroke-opacity="0.75"/>
<line x1="309.98" y1="348.10" x2="309.98" y2="319.03" stroke="#222" stroke-width="0.55" stroke-opacity="0.75"/>
<line x1="310.40" y1="348.10" x2="310.40" y2="333.57" stroke="#888" stroke-width="0.55" stroke-opacity="0.75"/>
<line x1="291.48" y1="348.10" x2="291.48" y2="319.03" stroke="#444" stroke-width="0.55" stroke-opacity="0.75"/>
<line x1="298.62" y1="348.10" x2="298.62" y2="319.03" stroke="#222" stroke-width="0.55" stroke-opacity="0.75"/>
<line x1="312.10" y1="348.10" x2="312.10" y2="333.57" stroke="#222" stroke-width="0.55" stroke-opacity="0.75"/>
<line x1="291.03" y1="348.10" x2="291.03" y2="319.03" stroke="#444" stroke-width="0.55" stroke-opacity="0.75"/>
<line x1="310.38" y1="348.10" x2="310.38" y2="333.57" stroke="#444" stroke-width="0.55" stroke-opacity="0.75"/>
<line x1="296.26" y1="348.10" x2="296.26" y2="319.03" stroke="#222" stroke-width="0.55" stroke-opacity="0.75"/>
<line x1="291.33" y1="348.10" x2="291.33" y2="333.57" stroke="#222" stroke-width="0.55" stroke-opacity="0.75"/>
<line x1="300.52" y1="348.10" x2="300.52" y2="333.57" stroke="#888" stroke-width="0.55" stroke-opacity="0.75"/>
<line x1="301.44" y1="348.10" x2="301.44" y2="333.57" stroke="#444" stroke-width="0.55" stroke-opacity="0.75"/>
<line x1="298.50" y1="348.10" x2="298.50" y2="333.57" stroke="#888" stroke-width="0.55" stroke-opacity="0.75"/>
<line x1="292.80" y1="348.10" x2="292.80" y2="319.03" stroke="#222" stroke-width="0.55" stroke-opacity="0.75"/>
<line x1="305.52" y1="348.10" x2="305.52" y2="333.57" stroke="#444" stroke-width="0.55" stroke-opacity="0.75"/>
<line x1="292.31" y1="348.10" x2="292.31" y2="319.03" stroke="#222" stroke-width="0.55" stroke-opacity="0.75"/>
<line x1="289.35" y1="348.10" x2="289.35" y2="333.57" stroke="#444" stroke-width="0.55" stroke-opacity="0.75"/>
<line x1="306.63" y1="348.10" x2="306.63" y2="319.03" stroke="#222" stroke-width="0.55" stroke-opacity="0.75"/>
<line x1="291.03" y1="348.10" x2="291.03" y2="319.03" stroke="#888" stroke-width="0.55" stroke-opacity="0.75"/>
<line x1="311.77" y1="348.10" x2="311.77" y2="333.57" stroke="#444" stroke-width="0.55" stroke-opacity="0.75"/>
<line x1="292.04" y1="348.10" x2="292.04" y2="319.03" stroke="#222" stroke-width="0.55" stroke-opacity="0.75"/>
<line x1="306.40" y1="348.10" x2="306.40" y2="319.03" stroke="#222" stroke-width="0.55" stroke-opacity="0.75"/>
<line x1="309.68" y1="348.10" x2="309.68" y2="333.57" stroke="#222" stroke-width="0.55" stroke-opacity="0.75"/>
<line x1="309.60" y1="348.10" x2="309.60" y2="319.03" stroke="#666" stroke-width="0.55" stroke-opacity="0.75"/>
<line x1="299.28" y1="348.10" x2="299.28" y2="333.57" stroke="#888" stroke-width="0.55" stroke-opacity="0.75"/>
<line x1="292.97" y1="348.10" x2="292.97" y2="319.03" stroke="#222" stroke-width="0.55" stroke-opacity="0.75"/>
<line x1="297.47" y1="348.10" x2="297.47" y2="319.03" stroke="#666" stroke-width="0.55" stroke-opacity="0.75"/>
<line x1="288.02" y1="348.10" x2="288.02" y2="333.57" stroke="#222" stroke-width="0.55" stroke-opacity="0.75"/>
<line x1="293.34" y1="348.10" x2="293.34" y2="319.03" stroke="#888" stroke-width="0.55" stroke-opacity="0.75"/>
<line x1="294.74" y1="348.10" x2="294.74" y2="319.03" stroke="#222" stroke-width="0.55" stroke-opacity="0.75"/>
<line x1="295.68" y1="348.10" x2="295.68" y2="333.57" stroke="#666" stroke-width="0.55" stroke-opacity="0.75"/>
<line x1="290.58" y1="348.10" x2="290.58" y2="319.03" stroke="#222" stroke-width="0.55" stroke-opacity="0.75"/>
<line x1="288.63" y1="348.10" x2="288.63" y2="333.57" stroke="#888" stroke-width="0.55" stroke-opacity="0.75"/>
<line x1="300.43" y1="348.10" x2="300.43" y2="333.57" stroke="#444" stroke-width="0.55" stroke-opacity="0.75"/>
<line x1="302.15" y1="348.10" x2="302.15" y2="333.57" stroke="#222" stroke-width="0.55" stroke-opacity="0.75"/>
<line x1="298.63" y1="348.10" x2="298.63" y2="319.03" stroke="#444" stroke-width="0.55" stroke-opacity="0.75"/>
<line x1="290.39" y1="348.10" x2="290.39" y2="333.57" stroke="#888" stroke-width="0.55" stroke-opacity="0.75"/>
<line x1="300.75" y1="348.10" x2="300.75" y2="333.57" stroke="#666" stroke-width="0.55" stroke-opacity="0.75"/>
<line x1="291.48" y1="348.10" x2="291.48" y2="319.03" stroke="#666" stroke-width="0.55" stroke-opacity="0.75"/>
<line x1="292.28" y1="348.10" x2="292.28" y2="319.03" stroke="#666" stroke-width="0.55" stroke-opacity="0.75"/>
<line x1="288.73" y1="348.10" x2="288.73" y2="333.57" stroke="#444" stroke-width="0.55" stroke-opacity="0.75"/>
<line x1="282.50" y1="348.10" x2="328.30" y2="348.10" stroke="#444" stroke-width="0.9"/>
<rect x="344.20" y="304.90" width="47.40" height="43.70" fill="none" stroke="#9a9a9a" stroke-width="1"/>
<text x="341.00" y="352.60" font-size="6.2" text-anchor="end" fill="#333" stroke="#333" stroke-width="0.18">0</text>
<text x="341.00" y="341.68" font-size="6.2" text-anchor="end" fill="#333" stroke="#333" stroke-width="0.18">1</text>
<text x="341.00" y="330.75" font-size="6.2" text-anchor="end" fill="#333" stroke="#333" stroke-width="0.18">2</text>
<text x="341.00" y="319.82" font-size="6.2" text-anchor="end" fill="#333" stroke="#333" stroke-width="0.18">3</text>
<text x="341.00" y="308.90" font-size="6.2" text-anchor="end" fill="#333" stroke="#333" stroke-width="0.18">4</text>
<text x="345.70" y="356.20" font-size="6.0" text-anchor="middle" fill="#333">10<tspan font-size="4.32" dy="-2.52">0</tspan></text>
<text x="357.18" y="356.20" font-size="6.0" text-anchor="middle" fill="#333">10<tspan font-size="4.32" dy="-2.52">1</tspan></text>
<text x="368.65" y="356.20" font-size="6.0" text-anchor="middle" fill="#333">10<tspan font-size="4.32" dy="-2.52">2</tspan></text>
<text x="380.12" y="356.20" font-size="6.0" text-anchor="middle" fill="#333">10<tspan font-size="4.32" dy="-2.52">3</tspan></text>
<text x="391.60" y="356.20" font-size="6.0" text-anchor="middle" fill="#333">10<tspan font-size="4.32" dy="-2.52">4</tspan></text>
<line x1="363.80" y1="344.40" x2="391.10" y2="344.40" stroke="#555" stroke-width="0.9"/>
<line x1="363.80" y1="342.90" x2="363.80" y2="345.90" stroke="#555" stroke-width="0.8"/>
<rect x="346.10" y="337.18" width="28.40" height="10.93" fill="#666" fill-opacity="0.4"/>
<path d="M346.10,348.10 V337.18 H374.50 V348.10" fill="none" stroke="#444" stroke-width="0.5" stroke-opacity="0.42"/>
<rect x="346.10" y="326.25" width="27.90" height="10.93" fill="#aaa" fill-opacity="0.18"/>
<line x1="353.38" y1="348.10" x2="353.38" y2="326.25" stroke="#444" stroke-width="0.55" stroke-opacity="0.75"/>
<line x1="364.58" y1="348.10" x2="364.58" y2="326.25" stroke="#444" stroke-width="0.55" stroke-opacity="0.75"/>
<line x1="370.77" y1="348.10" x2="370.77" y2="326.25" stroke="#444" stroke-width="0.55" stroke-opacity="0.75"/>
<line x1="349.71" y1="348.10" x2="349.71" y2="326.25" stroke="#444" stroke-width="0.55" stroke-opacity="0.75"/>
<line x1="367.22" y1="348.10" x2="367.22" y2="337.18" stroke="#222" stroke-width="0.55" stroke-opacity="0.75"/>
<line x1="358.30" y1="348.10" x2="358.30" y2="326.25" stroke="#222" stroke-width="0.55" stroke-opacity="0.75"/>
<line x1="374.30" y1="348.10" x2="374.30" y2="326.25" stroke="#444" stroke-width="0.55" stroke-opacity="0.75"/>
<line x1="348.42" y1="348.10" x2="348.42" y2="337.18" stroke="#666" stroke-width="0.55" stroke-opacity="0.75"/>
<line x1="369.55" y1="348.10" x2="369.55" y2="337.18" stroke="#888" stroke-width="0.55" stroke-opacity="0.75"/>
<line x1="373.06" y1="348.10" x2="373.06" y2="326.25" stroke="#666" stroke-width="0.55" stroke-opacity="0.75"/>
<line x1="356.14" y1="348.10" x2="356.14" y2="326.25" stroke="#444" stroke-width="0.55" stroke-opacity="0.75"/>
<line x1="359.87" y1="348.10" x2="359.87" y2="326.25" stroke="#888" stroke-width="0.55" stroke-opacity="0.75"/>
<line x1="365.12" y1="348.10" x2="365.12" y2="337.18" stroke="#888" stroke-width="0.55" stroke-opacity="0.75"/>
<line x1="364.20" y1="348.10" x2="364.20" y2="326.25" stroke="#222" stroke-width="0.55" stroke-opacity="0.75"/>
<line x1="355.86" y1="348.10" x2="355.86" y2="326.25" stroke="#666" stroke-width="0.55" stroke-opacity="0.75"/>
<line x1="365.69" y1="348.10" x2="365.69" y2="337.18" stroke="#444" stroke-width="0.55" stroke-opacity="0.75"/>
<line x1="358.55" y1="348.10" x2="358.55" y2="315.32" stroke="#888" stroke-width="0.55" stroke-opacity="0.75"/>
<line x1="361.28" y1="348.10" x2="361.28" y2="326.25" stroke="#666" stroke-width="0.55" stroke-opacity="0.75"/>
<line x1="351.77" y1="348.10" x2="351.77" y2="326.25" stroke="#666" stroke-width="0.55" stroke-opacity="0.75"/>
<line x1="353.22" y1="348.10" x2="353.22" y2="337.18" stroke="#888" stroke-width="0.55" stroke-opacity="0.75"/>
<line x1="353.46" y1="348.10" x2="353.46" y2="326.25" stroke="#666" stroke-width="0.55" stroke-opacity="0.75"/>
<line x1="357.28" y1="348.10" x2="357.28" y2="326.25" stroke="#444" stroke-width="0.55" stroke-opacity="0.75"/>
<line x1="362.45" y1="348.10" x2="362.45" y2="337.18" stroke="#444" stroke-width="0.55" stroke-opacity="0.75"/>
<line x1="362.11" y1="348.10" x2="362.11" y2="326.25" stroke="#444" stroke-width="0.55" stroke-opacity="0.75"/>
<line x1="365.99" y1="348.10" x2="365.99" y2="315.32" stroke="#444" stroke-width="0.55" stroke-opacity="0.75"/>
<line x1="348.09" y1="348.10" x2="348.09" y2="326.25" stroke="#888" stroke-width="0.55" stroke-opacity="0.75"/>
<line x1="357.11" y1="348.10" x2="357.11" y2="315.32" stroke="#888" stroke-width="0.55" stroke-opacity="0.75"/>
<line x1="372.59" y1="348.10" x2="372.59" y2="337.18" stroke="#222" stroke-width="0.55" stroke-opacity="0.75"/>
<line x1="352.41" y1="348.10" x2="352.41" y2="326.25" stroke="#888" stroke-width="0.55" stroke-opacity="0.75"/>
<line x1="368.97" y1="348.10" x2="368.97" y2="326.25" stroke="#888" stroke-width="0.55" stroke-opacity="0.75"/>
<line x1="364.21" y1="348.10" x2="364.21" y2="326.25" stroke="#444" stroke-width="0.55" stroke-opacity="0.75"/>
<line x1="366.89" y1="348.10" x2="366.89" y2="326.25" stroke="#666" stroke-width="0.55" stroke-opacity="0.75"/>
<line x1="371.26" y1="348.10" x2="371.26" y2="326.25" stroke="#666" stroke-width="0.55" stroke-opacity="0.75"/>
<line x1="351.79" y1="348.10" x2="351.79" y2="326.25" stroke="#666" stroke-width="0.55" stroke-opacity="0.75"/>
<line x1="360.83" y1="348.10" x2="360.83" y2="315.32" stroke="#444" stroke-width="0.55" stroke-opacity="0.75"/>
<line x1="371.69" y1="348.10" x2="371.69" y2="326.25" stroke="#444" stroke-width="0.55" stroke-opacity="0.75"/>
<line x1="366.60" y1="348.10" x2="366.60" y2="326.25" stroke="#444" stroke-width="0.55" stroke-opacity="0.75"/>
<line x1="370.55" y1="348.10" x2="370.55" y2="326.25" stroke="#222" stroke-width="0.55" stroke-opacity="0.75"/>
<line x1="362.55" y1="348.10" x2="362.55" y2="326.25" stroke="#222" stroke-width="0.55" stroke-opacity="0.75"/>
<line x1="356.24" y1="348.10" x2="356.24" y2="337.18" stroke="#666" stroke-width="0.55" stroke-opacity="0.75"/>
<line x1="351.19" y1="348.10" x2="351.19" y2="326.25" stroke="#444" stroke-width="0.55" stroke-opacity="0.75"/>
<line x1="350.69" y1="348.10" x2="350.69" y2="326.25" stroke="#222" stroke-width="0.55" stroke-opacity="0.75"/>
<line x1="371.67" y1="348.10" x2="371.67" y2="326.25" stroke="#444" stroke-width="0.55" stroke-opacity="0.75"/>
<line x1="347.97" y1="348.10" x2="347.97" y2="326.25" stroke="#222" stroke-width="0.55" stroke-opacity="0.75"/>
<line x1="373.68" y1="348.10" x2="373.68" y2="326.25" stroke="#666" stroke-width="0.55" stroke-opacity="0.75"/>
<line x1="364.39" y1="348.10" x2="364.39" y2="315.32" stroke="#222" stroke-width="0.55" stroke-opacity="0.75"/>
<line x1="349.60" y1="348.10" x2="349.60" y2="326.25" stroke="#666" stroke-width="0.55" stroke-opacity="0.75"/>
<line x1="349.46" y1="348.10" x2="349.46" y2="326.25" stroke="#666" stroke-width="0.55" stroke-opacity="0.75"/>
<line x1="371.84" y1="348.10" x2="371.84" y2="326.25" stroke="#222" stroke-width="0.55" stroke-opacity="0.75"/>
<line x1="372.74" y1="348.10" x2="372.74" y2="337.18" stroke="#666" stroke-width="0.55" stroke-opacity="0.75"/>
<line x1="370.27" y1="348.10" x2="370.27" y2="326.25" stroke="#222" stroke-width="0.55" stroke-opacity="0.75"/>
<line x1="346.16" y1="348.10" x2="346.16" y2="326.25" stroke="#666" stroke-width="0.55" stroke-opacity="0.75"/>
<line x1="350.42" y1="348.10" x2="350.42" y2="326.25" stroke="#888" stroke-width="0.55" stroke-opacity="0.75"/>
<line x1="352.36" y1="348.10" x2="352.36" y2="315.32" stroke="#444" stroke-width="0.55" stroke-opacity="0.75"/>
<line x1="354.45" y1="348.10" x2="354.45" y2="326.25" stroke="#222" stroke-width="0.55" stroke-opacity="0.75"/>
<line x1="356.72" y1="348.10" x2="356.72" y2="326.25" stroke="#444" stroke-width="0.55" stroke-opacity="0.75"/>
<line x1="367.04" y1="348.10" x2="367.04" y2="337.18" stroke="#666" stroke-width="0.55" stroke-opacity="0.75"/>
<line x1="358.12" y1="348.10" x2="358.12" y2="326.25" stroke="#444" stroke-width="0.55" stroke-opacity="0.75"/>
<line x1="353.37" y1="348.10" x2="353.37" y2="326.25" stroke="#444" stroke-width="0.55" stroke-opacity="0.75"/>
<line x1="356.13" y1="348.10" x2="356.13" y2="326.25" stroke="#444" stroke-width="0.55" stroke-opacity="0.75"/>
<line x1="364.80" y1="348.10" x2="364.80" y2="315.32" stroke="#333" stroke-width="1.3" stroke-opacity="0.8"/>
<circle cx="380" cy="341.5" r="1.2" fill="#c9a0c0" fill-opacity="0.6"/>
<line x1="345.00" y1="348.10" x2="391.00" y2="348.10" stroke="#444" stroke-width="0.9"/>
<text x="286.30" y="372.40" font-size="8.6" text-anchor="start" font-weight="bold" textLength="28.70" lengthAdjust="spacingAndGlyphs" fill="#111" stroke="#111" stroke-width="0.3">AnnexinV</text>
<line x1="316.30" y1="368.00" x2="387.50" y2="368.00" stroke="#111" stroke-width="1.3"/>
<path d="M387,365.5 L392.8,368 L387,370.5 Z" fill="#111"/>
<text x="286.30" y="383.80" font-size="7.4" text-anchor="start" textLength="31.70" lengthAdjust="spacingAndGlyphs" fill="#333" stroke="#333" stroke-width="0.18">5-FU+ctrl</text>
<text x="286.30" y="392.60" font-size="7.4" text-anchor="start" textLength="25.00" lengthAdjust="spacingAndGlyphs" fill="#333" stroke="#333" stroke-width="0.18">chimera</text>
<text x="342.50" y="383.80" font-size="7.4" text-anchor="start" textLength="48.80" lengthAdjust="spacingAndGlyphs" fill="#333" stroke="#333" stroke-width="0.18">5-FU+miR-26a</text>
<text x="342.50" y="392.60" font-size="7.4" text-anchor="start" textLength="25.00" lengthAdjust="spacingAndGlyphs" fill="#333" stroke="#333" stroke-width="0.18">chimera</text>
</g>
<rect x="0.78" y="0.78" width="518.44" height="406.44" fill="none" stroke="#000" stroke-width="1.56"/>
</svg>
</body></html>
